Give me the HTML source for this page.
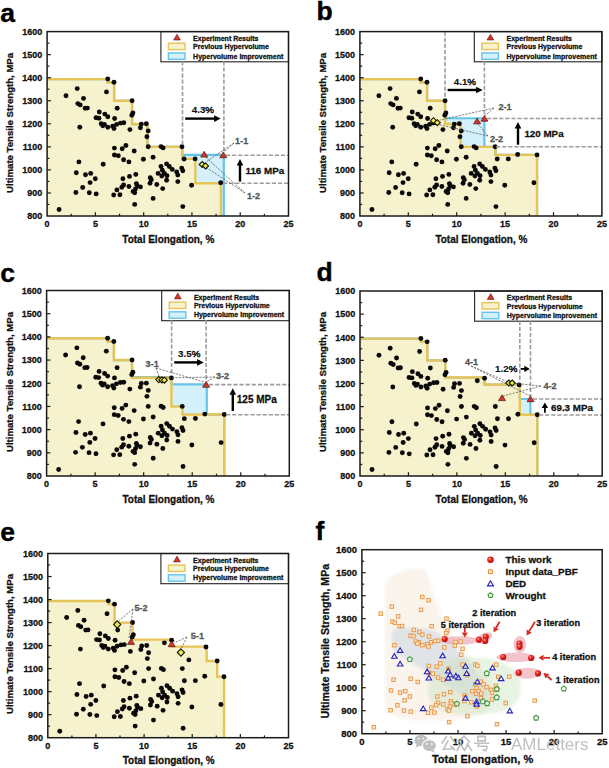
<!DOCTYPE html><html><head><meta charset="utf-8"><style>html,body{margin:0;padding:0;background:#fff;}svg{display:block;}</style></head><body>
<svg width="609" height="768" viewBox="0 0 609 768" font-family='"Liberation Sans", sans-serif'>
<rect width="609" height="768" fill="#fff"/>
<polygon points="47.10,216.00 47.10,79.08 107.93,79.08 107.93,82.31 114.11,82.31 114.11,100.75 132.07,100.75 132.07,124.03 147.52,124.03 147.52,146.85 182.28,146.85 182.28,158.84 195.32,158.84 195.32,183.27 220.91,183.27 220.91,216.00" fill="#f6f2cd"/>
<polygon points="47.10,216.00 47.10,79.08 107.93,79.08 107.93,82.31 114.11,82.31 114.11,100.75 132.07,100.75 132.07,124.03 147.52,124.03 147.52,146.85 182.28,146.85 182.28,154.92 223.80,154.92 223.80,216.00" fill="#d3f0fb"/>
<polygon points="47.10,216.00 47.10,79.08 107.93,79.08 107.93,82.31 114.11,82.31 114.11,100.75 132.07,100.75 132.07,124.03 147.52,124.03 147.52,146.85 182.28,146.85 182.28,158.84 195.32,158.84 195.32,183.27 220.91,183.27 220.91,216.00" fill="#f6f2cd"/>
<polyline points="47.10,79.08 107.93,79.08 107.93,82.31 114.11,82.31 114.11,100.75 132.07,100.75 132.07,124.03 147.52,124.03 147.52,146.85 182.28,146.85 182.28,154.92 223.80,154.92 223.80,216.00" fill="none" stroke="#66c4ea" stroke-width="2.2"/>
<polyline points="47.10,79.08 107.93,79.08 107.93,82.31 114.11,82.31 114.11,100.75 132.07,100.75 132.07,124.03 147.52,124.03 147.52,146.85 182.28,146.85 182.28,158.84 195.32,158.84 195.32,183.27 220.91,183.27 220.91,216.00" fill="none" stroke="#e7c457" stroke-width="2.4"/>
<circle cx="107.80" cy="79.00" r="2.45" fill="#0a0a0a"/>
<circle cx="114.00" cy="82.30" r="2.45" fill="#0a0a0a"/>
<circle cx="77.20" cy="88.60" r="2.45" fill="#0a0a0a"/>
<circle cx="106.50" cy="91.90" r="2.45" fill="#0a0a0a"/>
<circle cx="66.00" cy="95.70" r="2.45" fill="#0a0a0a"/>
<circle cx="83.50" cy="98.40" r="2.45" fill="#0a0a0a"/>
<circle cx="77.80" cy="103.60" r="2.45" fill="#0a0a0a"/>
<circle cx="80.20" cy="104.90" r="2.45" fill="#0a0a0a"/>
<circle cx="85.10" cy="108.30" r="2.45" fill="#0a0a0a"/>
<circle cx="87.40" cy="108.10" r="2.45" fill="#0a0a0a"/>
<circle cx="117.20" cy="108.30" r="2.45" fill="#0a0a0a"/>
<circle cx="99.30" cy="112.00" r="2.45" fill="#0a0a0a"/>
<circle cx="104.80" cy="114.10" r="2.45" fill="#0a0a0a"/>
<circle cx="107.80" cy="116.70" r="2.45" fill="#0a0a0a"/>
<circle cx="96.00" cy="117.80" r="2.45" fill="#0a0a0a"/>
<circle cx="98.90" cy="118.20" r="2.45" fill="#0a0a0a"/>
<circle cx="114.60" cy="118.50" r="2.45" fill="#0a0a0a"/>
<circle cx="101.20" cy="123.70" r="2.45" fill="#0a0a0a"/>
<circle cx="104.40" cy="124.40" r="2.45" fill="#0a0a0a"/>
<circle cx="102.80" cy="125.70" r="2.45" fill="#0a0a0a"/>
<circle cx="107.80" cy="127.30" r="2.45" fill="#0a0a0a"/>
<circle cx="112.70" cy="126.30" r="2.45" fill="#0a0a0a"/>
<circle cx="114.00" cy="128.60" r="2.45" fill="#0a0a0a"/>
<circle cx="116.60" cy="124.40" r="2.45" fill="#0a0a0a"/>
<circle cx="120.50" cy="123.10" r="2.45" fill="#0a0a0a"/>
<circle cx="123.80" cy="122.80" r="2.45" fill="#0a0a0a"/>
<circle cx="79.80" cy="127.30" r="2.45" fill="#0a0a0a"/>
<circle cx="114.40" cy="148.10" r="2.45" fill="#0a0a0a"/>
<circle cx="122.20" cy="148.80" r="2.45" fill="#0a0a0a"/>
<circle cx="114.40" cy="155.00" r="2.45" fill="#0a0a0a"/>
<circle cx="118.30" cy="155.80" r="2.45" fill="#0a0a0a"/>
<circle cx="123.60" cy="159.70" r="2.45" fill="#0a0a0a"/>
<circle cx="78.90" cy="161.90" r="2.45" fill="#0a0a0a"/>
<circle cx="103.20" cy="164.20" r="2.45" fill="#0a0a0a"/>
<circle cx="76.30" cy="172.70" r="2.45" fill="#0a0a0a"/>
<circle cx="85.50" cy="174.70" r="2.45" fill="#0a0a0a"/>
<circle cx="90.70" cy="173.40" r="2.45" fill="#0a0a0a"/>
<circle cx="95.30" cy="178.70" r="2.45" fill="#0a0a0a"/>
<circle cx="90.10" cy="182.60" r="2.45" fill="#0a0a0a"/>
<circle cx="122.90" cy="178.70" r="2.45" fill="#0a0a0a"/>
<circle cx="123.60" cy="184.90" r="2.45" fill="#0a0a0a"/>
<circle cx="121.80" cy="187.30" r="2.45" fill="#0a0a0a"/>
<circle cx="116.90" cy="189.90" r="2.45" fill="#0a0a0a"/>
<circle cx="82.70" cy="187.50" r="2.45" fill="#0a0a0a"/>
<circle cx="75.90" cy="192.50" r="2.45" fill="#0a0a0a"/>
<circle cx="89.30" cy="192.80" r="2.45" fill="#0a0a0a"/>
<circle cx="96.20" cy="193.90" r="2.45" fill="#0a0a0a"/>
<circle cx="113.70" cy="195.00" r="2.45" fill="#0a0a0a"/>
<circle cx="119.90" cy="194.80" r="2.45" fill="#0a0a0a"/>
<circle cx="59.10" cy="209.50" r="2.45" fill="#0a0a0a"/>
<circle cx="132.10" cy="100.70" r="2.45" fill="#0a0a0a"/>
<circle cx="132.90" cy="112.90" r="2.45" fill="#0a0a0a"/>
<circle cx="131.80" cy="115.20" r="2.45" fill="#0a0a0a"/>
<circle cx="129.90" cy="129.60" r="2.45" fill="#0a0a0a"/>
<circle cx="141.30" cy="124.10" r="2.45" fill="#0a0a0a"/>
<circle cx="146.30" cy="123.70" r="2.45" fill="#0a0a0a"/>
<circle cx="140.40" cy="127.70" r="2.45" fill="#0a0a0a"/>
<circle cx="148.20" cy="130.90" r="2.45" fill="#0a0a0a"/>
<circle cx="146.90" cy="136.80" r="2.45" fill="#0a0a0a"/>
<circle cx="148.20" cy="146.80" r="2.45" fill="#0a0a0a"/>
<circle cx="161.00" cy="146.60" r="2.45" fill="#0a0a0a"/>
<circle cx="163.10" cy="147.90" r="2.45" fill="#0a0a0a"/>
<circle cx="182.00" cy="146.80" r="2.45" fill="#0a0a0a"/>
<circle cx="125.90" cy="145.50" r="2.45" fill="#0a0a0a"/>
<circle cx="134.20" cy="151.00" r="2.45" fill="#0a0a0a"/>
<circle cx="128.90" cy="161.90" r="2.45" fill="#0a0a0a"/>
<circle cx="143.40" cy="159.30" r="2.45" fill="#0a0a0a"/>
<circle cx="153.10" cy="157.30" r="2.45" fill="#0a0a0a"/>
<circle cx="184.10" cy="159.00" r="2.45" fill="#0a0a0a"/>
<circle cx="195.10" cy="158.90" r="2.45" fill="#0a0a0a"/>
<circle cx="161.00" cy="166.50" r="2.45" fill="#0a0a0a"/>
<circle cx="166.60" cy="163.90" r="2.45" fill="#0a0a0a"/>
<circle cx="169.30" cy="166.50" r="2.45" fill="#0a0a0a"/>
<circle cx="172.30" cy="169.40" r="2.45" fill="#0a0a0a"/>
<circle cx="181.70" cy="168.10" r="2.45" fill="#0a0a0a"/>
<circle cx="182.80" cy="170.70" r="2.45" fill="#0a0a0a"/>
<circle cx="176.70" cy="172.00" r="2.45" fill="#0a0a0a"/>
<circle cx="177.80" cy="175.10" r="2.45" fill="#0a0a0a"/>
<circle cx="158.10" cy="173.40" r="2.45" fill="#0a0a0a"/>
<circle cx="162.30" cy="170.20" r="2.45" fill="#0a0a0a"/>
<circle cx="161.80" cy="176.00" r="2.45" fill="#0a0a0a"/>
<circle cx="164.40" cy="173.40" r="2.45" fill="#0a0a0a"/>
<circle cx="167.00" cy="175.70" r="2.45" fill="#0a0a0a"/>
<circle cx="166.60" cy="180.30" r="2.45" fill="#0a0a0a"/>
<circle cx="177.80" cy="181.60" r="2.45" fill="#0a0a0a"/>
<circle cx="191.60" cy="185.20" r="2.45" fill="#0a0a0a"/>
<circle cx="135.80" cy="174.40" r="2.45" fill="#0a0a0a"/>
<circle cx="129.50" cy="176.40" r="2.45" fill="#0a0a0a"/>
<circle cx="150.20" cy="177.70" r="2.45" fill="#0a0a0a"/>
<circle cx="151.30" cy="179.70" r="2.45" fill="#0a0a0a"/>
<circle cx="150.00" cy="183.30" r="2.45" fill="#0a0a0a"/>
<circle cx="156.80" cy="184.50" r="2.45" fill="#0a0a0a"/>
<circle cx="162.70" cy="188.60" r="2.45" fill="#0a0a0a"/>
<circle cx="128.90" cy="186.50" r="2.45" fill="#0a0a0a"/>
<circle cx="136.40" cy="183.60" r="2.45" fill="#0a0a0a"/>
<circle cx="137.10" cy="185.60" r="2.45" fill="#0a0a0a"/>
<circle cx="140.40" cy="186.90" r="2.45" fill="#0a0a0a"/>
<circle cx="135.50" cy="188.90" r="2.45" fill="#0a0a0a"/>
<circle cx="133.10" cy="191.50" r="2.45" fill="#0a0a0a"/>
<circle cx="134.70" cy="192.80" r="2.45" fill="#0a0a0a"/>
<circle cx="153.10" cy="198.40" r="2.45" fill="#0a0a0a"/>
<circle cx="134.70" cy="204.40" r="2.45" fill="#0a0a0a"/>
<circle cx="182.80" cy="206.60" r="2.45" fill="#0a0a0a"/>
<circle cx="220.70" cy="182.80" r="2.45" fill="#0a0a0a"/>
<rect x="160.9" y="31.6" width="127.6" height="30.2" fill="#fff" stroke="#222" stroke-width="1.1"/>
<polygon points="173.6,40.0 180.4,40.0 177.0,34.2" fill="#d8342a" stroke="#5a1a10" stroke-width="0.6"/>
<rect x="168.4" y="43.2" width="16.6" height="6.4" fill="#f6f2cd" stroke="#e7c457" stroke-width="1.4"/>
<rect x="168.4" y="52.9" width="16.6" height="6.4" fill="#d3f0fb" stroke="#66c4ea" stroke-width="1.4"/>
<text x="193.1" y="40.6" font-size="7" font-weight="bold" fill="#111" stroke="#111" stroke-width="0.28" text-anchor="start" >Experiment Results</text>
<text x="193.1" y="49.3" font-size="7" font-weight="bold" fill="#111" stroke="#111" stroke-width="0.28" text-anchor="start" >Previous Hypervolume</text>
<text x="193.1" y="58.5" font-size="7" font-weight="bold" fill="#111" stroke="#111" stroke-width="0.28" text-anchor="start" >Hypervolume Improvement</text>
<line x1="182.5" y1="61.3" x2="182.5" y2="146.0" stroke="#9c9c9c" stroke-width="1.6" stroke-dasharray="4.2,1.9"/>
<line x1="223.9" y1="61.3" x2="223.9" y2="153.0" stroke="#9c9c9c" stroke-width="1.6" stroke-dasharray="4.2,1.9"/>
<line x1="226.0" y1="155.2" x2="288.5" y2="155.2" stroke="#9c9c9c" stroke-width="1.6" stroke-dasharray="4.2,1.9"/>
<line x1="223.0" y1="183.2" x2="288.5" y2="183.2" stroke="#9c9c9c" stroke-width="1.6" stroke-dasharray="4.2,1.9"/>
<line x1="185.2" y1="118.6" x2="215.1" y2="118.6" stroke="#000" stroke-width="2.4"/>
<polygon points="214.1,115.3 220.7,118.6 214.1,121.9" fill="#000"/>
<text x="202.9" y="113.2" font-size="9.8" font-weight="bold" fill="#111" stroke="#111" stroke-width="0.12" text-anchor="middle" >4.3<tspan font-weight="normal" stroke-width="0.45">%</tspan></text>
<line x1="240.0" y1="181.6" x2="240.0" y2="164.6" stroke="#000" stroke-width="2.4"/>
<polygon points="236.7,165.6 240.0,159.0 243.3,165.6" fill="#000"/>
<text x="245.5" y="173.9" font-size="9.8" font-weight="bold" fill="#111" stroke="#111" stroke-width="0.28" text-anchor="start" >116 MPa</text>
<line x1="234.0" y1="143.0" x2="223.3" y2="152.5" stroke="#555" stroke-width="0.75" stroke-dasharray="2.2,1.2"/>
<line x1="234.0" y1="143.0" x2="206.0" y2="162.0" stroke="#555" stroke-width="0.75" stroke-dasharray="2.2,1.2"/>
<line x1="245.0" y1="193.0" x2="204.5" y2="156.0" stroke="#555" stroke-width="0.75" stroke-dasharray="2.2,1.2"/>
<line x1="245.0" y1="193.0" x2="204.0" y2="166.0" stroke="#555" stroke-width="0.75" stroke-dasharray="2.2,1.2"/>
<polygon points="200.7,157.1 207.7,157.1 204.2,151.3" fill="#d8342a" stroke="#4a1208" stroke-width="0.7"/>
<polygon points="219.8,157.7 226.8,157.7 223.3,151.9" fill="#d8342a" stroke="#4a1208" stroke-width="0.7"/>
<polygon points="202.2,161.5 205.2,164.5 202.2,167.5 199.2,164.5" fill="#eeec50" stroke="#151500" stroke-width="1.1"/>
<polygon points="205.5,162.9 208.5,165.9 205.5,168.9 202.5,165.9" fill="#eeec50" stroke="#151500" stroke-width="1.1"/>
<text x="235.1" y="143.5" font-size="9.1" font-weight="bold" fill="#555" stroke="#555" stroke-width="0.28" text-anchor="start" >1-1</text>
<text x="246.9" y="199.3" font-size="9.1" font-weight="bold" fill="#555" stroke="#555" stroke-width="0.28" text-anchor="start" >1-2</text>
<line x1="71.24" y1="216.0" x2="71.24" y2="213.7" stroke="#1a1a1a" stroke-width="1.2"/>
<line x1="95.38" y1="216.0" x2="95.38" y2="212.2" stroke="#1a1a1a" stroke-width="1.2"/>
<line x1="119.52" y1="216.0" x2="119.52" y2="213.7" stroke="#1a1a1a" stroke-width="1.2"/>
<line x1="143.66" y1="216.0" x2="143.66" y2="212.2" stroke="#1a1a1a" stroke-width="1.2"/>
<line x1="167.80" y1="216.0" x2="167.80" y2="213.7" stroke="#1a1a1a" stroke-width="1.2"/>
<line x1="191.94" y1="216.0" x2="191.94" y2="212.2" stroke="#1a1a1a" stroke-width="1.2"/>
<line x1="216.08" y1="216.0" x2="216.08" y2="213.7" stroke="#1a1a1a" stroke-width="1.2"/>
<line x1="240.22" y1="216.0" x2="240.22" y2="212.2" stroke="#1a1a1a" stroke-width="1.2"/>
<line x1="264.36" y1="216.0" x2="264.36" y2="213.7" stroke="#1a1a1a" stroke-width="1.2"/>
<line x1="47.1" y1="204.47" x2="49.4" y2="204.47" stroke="#1a1a1a" stroke-width="1.2"/>
<line x1="47.1" y1="192.95" x2="50.9" y2="192.95" stroke="#1a1a1a" stroke-width="1.2"/>
<line x1="47.1" y1="181.43" x2="49.4" y2="181.43" stroke="#1a1a1a" stroke-width="1.2"/>
<line x1="47.1" y1="169.90" x2="50.9" y2="169.90" stroke="#1a1a1a" stroke-width="1.2"/>
<line x1="47.1" y1="158.38" x2="49.4" y2="158.38" stroke="#1a1a1a" stroke-width="1.2"/>
<line x1="47.1" y1="146.85" x2="50.9" y2="146.85" stroke="#1a1a1a" stroke-width="1.2"/>
<line x1="47.1" y1="135.32" x2="49.4" y2="135.32" stroke="#1a1a1a" stroke-width="1.2"/>
<line x1="47.1" y1="123.80" x2="50.9" y2="123.80" stroke="#1a1a1a" stroke-width="1.2"/>
<line x1="47.1" y1="112.28" x2="49.4" y2="112.28" stroke="#1a1a1a" stroke-width="1.2"/>
<line x1="47.1" y1="100.75" x2="50.9" y2="100.75" stroke="#1a1a1a" stroke-width="1.2"/>
<line x1="47.1" y1="89.22" x2="49.4" y2="89.22" stroke="#1a1a1a" stroke-width="1.2"/>
<line x1="47.1" y1="77.70" x2="50.9" y2="77.70" stroke="#1a1a1a" stroke-width="1.2"/>
<line x1="47.1" y1="66.18" x2="49.4" y2="66.18" stroke="#1a1a1a" stroke-width="1.2"/>
<line x1="47.1" y1="54.65" x2="50.9" y2="54.65" stroke="#1a1a1a" stroke-width="1.2"/>
<line x1="47.1" y1="43.12" x2="49.4" y2="43.12" stroke="#1a1a1a" stroke-width="1.2"/>
<rect x="47.1" y="31.6" width="241.40" height="184.40" fill="none" stroke="#1a1a1a" stroke-width="1.5"/>
<text x="47.1" y="227.3" font-size="9" font-weight="bold" fill="#111" stroke="#111" stroke-width="0.28" text-anchor="middle" >0</text>
<text x="95.4" y="227.3" font-size="9" font-weight="bold" fill="#111" stroke="#111" stroke-width="0.28" text-anchor="middle" >5</text>
<text x="143.7" y="227.3" font-size="9" font-weight="bold" fill="#111" stroke="#111" stroke-width="0.28" text-anchor="middle" >10</text>
<text x="191.9" y="227.3" font-size="9" font-weight="bold" fill="#111" stroke="#111" stroke-width="0.28" text-anchor="middle" >15</text>
<text x="240.2" y="227.3" font-size="9" font-weight="bold" fill="#111" stroke="#111" stroke-width="0.28" text-anchor="middle" >20</text>
<text x="288.5" y="227.3" font-size="9" font-weight="bold" fill="#111" stroke="#111" stroke-width="0.28" text-anchor="middle" >25</text>
<text x="42.3" y="219.2" font-size="9" font-weight="bold" fill="#111" stroke="#111" stroke-width="0.28" text-anchor="end" >800</text>
<text x="42.3" y="196.2" font-size="9" font-weight="bold" fill="#111" stroke="#111" stroke-width="0.28" text-anchor="end" >900</text>
<text x="42.3" y="173.1" font-size="9" font-weight="bold" fill="#111" stroke="#111" stroke-width="0.28" text-anchor="end" >1000</text>
<text x="42.3" y="150.1" font-size="9" font-weight="bold" fill="#111" stroke="#111" stroke-width="0.28" text-anchor="end" >1100</text>
<text x="42.3" y="127.0" font-size="9" font-weight="bold" fill="#111" stroke="#111" stroke-width="0.28" text-anchor="end" >1200</text>
<text x="42.3" y="104.0" font-size="9" font-weight="bold" fill="#111" stroke="#111" stroke-width="0.28" text-anchor="end" >1300</text>
<text x="42.3" y="80.9" font-size="9" font-weight="bold" fill="#111" stroke="#111" stroke-width="0.28" text-anchor="end" >1400</text>
<text x="42.3" y="57.9" font-size="9" font-weight="bold" fill="#111" stroke="#111" stroke-width="0.28" text-anchor="end" >1500</text>
<text x="42.3" y="34.8" font-size="9" font-weight="bold" fill="#111" stroke="#111" stroke-width="0.28" text-anchor="end" >1600</text>
<text x="168.3" y="242.6" font-size="10" font-weight="bold" fill="#111" stroke="#111" stroke-width="0.28" text-anchor="middle" >Total Elongation, %</text>
<text x="0" y="0" font-size="9.6" font-weight="bold" fill="#111" stroke="#111" stroke-width="0.28" text-anchor="middle" transform="translate(12.5,122.9) rotate(-90)">Ultimate Tensile Strength, MPa</text>
<text x="0.2" y="21.7" font-size="26.5" font-weight="bold" fill="#000" stroke="#000" stroke-width="0.4">a</text>
<polygon points="359.90,216.00 359.90,79.08 420.88,79.08 420.88,82.31 427.08,82.31 427.08,100.75 445.08,100.75 445.08,124.03 460.57,124.03 460.57,146.85 495.42,146.85 495.42,154.92 537.04,154.92 537.04,216.00" fill="#f6f2cd"/>
<polygon points="359.90,216.00 359.90,79.08 420.88,79.08 420.88,82.31 427.08,82.31 427.08,100.75 445.08,100.75 445.08,118.27 484.38,118.27 484.38,146.85 495.42,146.85 495.42,154.92 537.04,154.92 537.04,216.00" fill="#d3f0fb"/>
<polygon points="359.90,216.00 359.90,79.08 420.88,79.08 420.88,82.31 427.08,82.31 427.08,100.75 445.08,100.75 445.08,124.03 460.57,124.03 460.57,146.85 495.42,146.85 495.42,154.92 537.04,154.92 537.04,216.00" fill="#f6f2cd"/>
<polyline points="359.90,79.08 420.88,79.08 420.88,82.31 427.08,82.31 427.08,100.75 445.08,100.75 445.08,118.27 484.38,118.27 484.38,146.85 495.42,146.85 495.42,154.92 537.04,154.92 537.04,216.00" fill="none" stroke="#66c4ea" stroke-width="2.2"/>
<polyline points="359.90,79.08 420.88,79.08 420.88,82.31 427.08,82.31 427.08,100.75 445.08,100.75 445.08,124.03 460.57,124.03 460.57,146.85 495.42,146.85 495.42,154.92 537.04,154.92 537.04,216.00" fill="none" stroke="#e7c457" stroke-width="2.4"/>
<circle cx="420.75" cy="79.00" r="2.45" fill="#0a0a0a"/>
<circle cx="426.97" cy="82.30" r="2.45" fill="#0a0a0a"/>
<circle cx="390.07" cy="88.60" r="2.45" fill="#0a0a0a"/>
<circle cx="419.45" cy="91.90" r="2.45" fill="#0a0a0a"/>
<circle cx="378.85" cy="95.70" r="2.45" fill="#0a0a0a"/>
<circle cx="396.39" cy="98.40" r="2.45" fill="#0a0a0a"/>
<circle cx="390.68" cy="103.60" r="2.45" fill="#0a0a0a"/>
<circle cx="393.08" cy="104.90" r="2.45" fill="#0a0a0a"/>
<circle cx="397.99" cy="108.30" r="2.45" fill="#0a0a0a"/>
<circle cx="400.30" cy="108.10" r="2.45" fill="#0a0a0a"/>
<circle cx="430.17" cy="108.30" r="2.45" fill="#0a0a0a"/>
<circle cx="412.23" cy="112.00" r="2.45" fill="#0a0a0a"/>
<circle cx="417.74" cy="114.10" r="2.45" fill="#0a0a0a"/>
<circle cx="420.75" cy="116.70" r="2.45" fill="#0a0a0a"/>
<circle cx="408.92" cy="117.80" r="2.45" fill="#0a0a0a"/>
<circle cx="411.83" cy="118.20" r="2.45" fill="#0a0a0a"/>
<circle cx="427.57" cy="118.50" r="2.45" fill="#0a0a0a"/>
<circle cx="414.13" cy="123.70" r="2.45" fill="#0a0a0a"/>
<circle cx="417.34" cy="124.40" r="2.45" fill="#0a0a0a"/>
<circle cx="415.74" cy="125.70" r="2.45" fill="#0a0a0a"/>
<circle cx="420.75" cy="127.30" r="2.45" fill="#0a0a0a"/>
<circle cx="425.66" cy="126.30" r="2.45" fill="#0a0a0a"/>
<circle cx="426.97" cy="128.60" r="2.45" fill="#0a0a0a"/>
<circle cx="429.57" cy="124.40" r="2.45" fill="#0a0a0a"/>
<circle cx="433.48" cy="123.10" r="2.45" fill="#0a0a0a"/>
<circle cx="436.79" cy="122.80" r="2.45" fill="#0a0a0a"/>
<circle cx="392.68" cy="127.30" r="2.45" fill="#0a0a0a"/>
<circle cx="427.37" cy="148.10" r="2.45" fill="#0a0a0a"/>
<circle cx="435.19" cy="148.80" r="2.45" fill="#0a0a0a"/>
<circle cx="427.37" cy="155.00" r="2.45" fill="#0a0a0a"/>
<circle cx="431.28" cy="155.80" r="2.45" fill="#0a0a0a"/>
<circle cx="436.59" cy="159.70" r="2.45" fill="#0a0a0a"/>
<circle cx="391.78" cy="161.90" r="2.45" fill="#0a0a0a"/>
<circle cx="416.14" cy="164.20" r="2.45" fill="#0a0a0a"/>
<circle cx="389.17" cy="172.70" r="2.45" fill="#0a0a0a"/>
<circle cx="398.40" cy="174.70" r="2.45" fill="#0a0a0a"/>
<circle cx="403.61" cy="173.40" r="2.45" fill="#0a0a0a"/>
<circle cx="408.22" cy="178.70" r="2.45" fill="#0a0a0a"/>
<circle cx="403.01" cy="182.60" r="2.45" fill="#0a0a0a"/>
<circle cx="435.89" cy="178.70" r="2.45" fill="#0a0a0a"/>
<circle cx="436.59" cy="184.90" r="2.45" fill="#0a0a0a"/>
<circle cx="434.79" cy="187.30" r="2.45" fill="#0a0a0a"/>
<circle cx="429.87" cy="189.90" r="2.45" fill="#0a0a0a"/>
<circle cx="395.59" cy="187.50" r="2.45" fill="#0a0a0a"/>
<circle cx="388.77" cy="192.50" r="2.45" fill="#0a0a0a"/>
<circle cx="402.20" cy="192.80" r="2.45" fill="#0a0a0a"/>
<circle cx="409.12" cy="193.90" r="2.45" fill="#0a0a0a"/>
<circle cx="426.67" cy="195.00" r="2.45" fill="#0a0a0a"/>
<circle cx="432.88" cy="194.80" r="2.45" fill="#0a0a0a"/>
<circle cx="371.93" cy="209.50" r="2.45" fill="#0a0a0a"/>
<circle cx="445.11" cy="100.70" r="2.45" fill="#0a0a0a"/>
<circle cx="445.91" cy="112.90" r="2.45" fill="#0a0a0a"/>
<circle cx="444.81" cy="115.20" r="2.45" fill="#0a0a0a"/>
<circle cx="442.91" cy="129.60" r="2.45" fill="#0a0a0a"/>
<circle cx="454.33" cy="124.10" r="2.45" fill="#0a0a0a"/>
<circle cx="459.35" cy="123.70" r="2.45" fill="#0a0a0a"/>
<circle cx="453.43" cy="127.70" r="2.45" fill="#0a0a0a"/>
<circle cx="461.25" cy="130.90" r="2.45" fill="#0a0a0a"/>
<circle cx="459.95" cy="136.80" r="2.45" fill="#0a0a0a"/>
<circle cx="461.25" cy="146.80" r="2.45" fill="#0a0a0a"/>
<circle cx="474.08" cy="146.60" r="2.45" fill="#0a0a0a"/>
<circle cx="476.19" cy="147.90" r="2.45" fill="#0a0a0a"/>
<circle cx="495.14" cy="146.80" r="2.45" fill="#0a0a0a"/>
<circle cx="438.90" cy="145.50" r="2.45" fill="#0a0a0a"/>
<circle cx="447.22" cy="151.00" r="2.45" fill="#0a0a0a"/>
<circle cx="441.90" cy="161.90" r="2.45" fill="#0a0a0a"/>
<circle cx="456.44" cy="159.30" r="2.45" fill="#0a0a0a"/>
<circle cx="466.16" cy="157.30" r="2.45" fill="#0a0a0a"/>
<circle cx="497.24" cy="159.00" r="2.45" fill="#0a0a0a"/>
<circle cx="508.27" cy="158.90" r="2.45" fill="#0a0a0a"/>
<circle cx="474.08" cy="166.50" r="2.45" fill="#0a0a0a"/>
<circle cx="479.70" cy="163.90" r="2.45" fill="#0a0a0a"/>
<circle cx="482.40" cy="166.50" r="2.45" fill="#0a0a0a"/>
<circle cx="485.41" cy="169.40" r="2.45" fill="#0a0a0a"/>
<circle cx="494.83" cy="168.10" r="2.45" fill="#0a0a0a"/>
<circle cx="495.94" cy="170.70" r="2.45" fill="#0a0a0a"/>
<circle cx="489.82" cy="172.00" r="2.45" fill="#0a0a0a"/>
<circle cx="490.92" cy="175.10" r="2.45" fill="#0a0a0a"/>
<circle cx="471.18" cy="173.40" r="2.45" fill="#0a0a0a"/>
<circle cx="475.39" cy="170.20" r="2.45" fill="#0a0a0a"/>
<circle cx="474.89" cy="176.00" r="2.45" fill="#0a0a0a"/>
<circle cx="477.49" cy="173.40" r="2.45" fill="#0a0a0a"/>
<circle cx="480.10" cy="175.70" r="2.45" fill="#0a0a0a"/>
<circle cx="479.70" cy="180.30" r="2.45" fill="#0a0a0a"/>
<circle cx="490.92" cy="181.60" r="2.45" fill="#0a0a0a"/>
<circle cx="504.76" cy="185.20" r="2.45" fill="#0a0a0a"/>
<circle cx="448.82" cy="174.40" r="2.45" fill="#0a0a0a"/>
<circle cx="442.50" cy="176.40" r="2.45" fill="#0a0a0a"/>
<circle cx="463.26" cy="177.70" r="2.45" fill="#0a0a0a"/>
<circle cx="464.36" cy="179.70" r="2.45" fill="#0a0a0a"/>
<circle cx="463.06" cy="183.30" r="2.45" fill="#0a0a0a"/>
<circle cx="469.87" cy="184.50" r="2.45" fill="#0a0a0a"/>
<circle cx="475.79" cy="188.60" r="2.45" fill="#0a0a0a"/>
<circle cx="441.90" cy="186.50" r="2.45" fill="#0a0a0a"/>
<circle cx="449.42" cy="183.60" r="2.45" fill="#0a0a0a"/>
<circle cx="450.12" cy="185.60" r="2.45" fill="#0a0a0a"/>
<circle cx="453.43" cy="186.90" r="2.45" fill="#0a0a0a"/>
<circle cx="448.52" cy="188.90" r="2.45" fill="#0a0a0a"/>
<circle cx="446.11" cy="191.50" r="2.45" fill="#0a0a0a"/>
<circle cx="447.72" cy="192.80" r="2.45" fill="#0a0a0a"/>
<circle cx="466.16" cy="198.40" r="2.45" fill="#0a0a0a"/>
<circle cx="447.72" cy="204.40" r="2.45" fill="#0a0a0a"/>
<circle cx="495.94" cy="206.60" r="2.45" fill="#0a0a0a"/>
<circle cx="533.93" cy="182.80" r="2.45" fill="#0a0a0a"/>
<circle cx="517.68" cy="154.46" r="2.45" fill="#0a0a0a"/>
<circle cx="537.04" cy="154.92" r="2.45" fill="#0a0a0a"/>
<rect x="474.3" y="31.6" width="127.6" height="30.2" fill="#fff" stroke="#222" stroke-width="1.1"/>
<polygon points="487.0,40.0 493.8,40.0 490.4,34.2" fill="#d8342a" stroke="#5a1a10" stroke-width="0.6"/>
<rect x="481.8" y="43.2" width="16.6" height="6.4" fill="#f6f2cd" stroke="#e7c457" stroke-width="1.4"/>
<rect x="481.8" y="52.9" width="16.6" height="6.4" fill="#d3f0fb" stroke="#66c4ea" stroke-width="1.4"/>
<text x="506.5" y="40.6" font-size="7" font-weight="bold" fill="#111" stroke="#111" stroke-width="0.28" text-anchor="start" >Experiment Results</text>
<text x="506.5" y="49.3" font-size="7" font-weight="bold" fill="#111" stroke="#111" stroke-width="0.28" text-anchor="start" >Previous Hypervolume</text>
<text x="506.5" y="58.5" font-size="7" font-weight="bold" fill="#111" stroke="#111" stroke-width="0.28" text-anchor="start" >Hypervolume Improvement</text>
<line x1="445.0" y1="31.6" x2="445.0" y2="99.0" stroke="#9c9c9c" stroke-width="1.6" stroke-dasharray="4.2,1.9"/>
<line x1="484.4" y1="61.3" x2="484.4" y2="116.0" stroke="#9c9c9c" stroke-width="1.6" stroke-dasharray="4.2,1.9"/>
<line x1="487.0" y1="118.5" x2="601.9" y2="118.5" stroke="#9c9c9c" stroke-width="1.6" stroke-dasharray="4.2,1.9"/>
<line x1="496.0" y1="146.7" x2="601.9" y2="146.7" stroke="#9c9c9c" stroke-width="1.6" stroke-dasharray="4.2,1.9"/>
<line x1="447.6" y1="90.0" x2="477.1" y2="90.0" stroke="#000" stroke-width="2.4"/>
<polygon points="476.1,86.7 482.7,90.0 476.1,93.3" fill="#000"/>
<text x="464.9" y="85.2" font-size="9.8" font-weight="bold" fill="#111" stroke="#111" stroke-width="0.12" text-anchor="middle" >4.1<tspan font-weight="normal" stroke-width="0.45">%</tspan></text>
<line x1="518.0" y1="144.7" x2="518.0" y2="127.6" stroke="#000" stroke-width="2.4"/>
<polygon points="514.7,128.6 518.0,122.0 521.3,128.6" fill="#000"/>
<text x="524.4" y="137.4" font-size="9.8" font-weight="bold" fill="#111" stroke="#111" stroke-width="0.28" text-anchor="start" >120 MPa</text>
<line x1="494.0" y1="108.0" x2="484.4" y2="116.0" stroke="#555" stroke-width="0.75" stroke-dasharray="2.2,1.2"/>
<line x1="494.0" y1="108.0" x2="440.0" y2="120.0" stroke="#555" stroke-width="0.75" stroke-dasharray="2.2,1.2"/>
<line x1="488.0" y1="136.0" x2="477.1" y2="123.0" stroke="#555" stroke-width="0.75" stroke-dasharray="2.2,1.2"/>
<line x1="488.0" y1="136.0" x2="436.0" y2="124.0" stroke="#555" stroke-width="0.75" stroke-dasharray="2.2,1.2"/>
<polygon points="473.6,123.8 480.6,123.8 477.1,118.0" fill="#d8342a" stroke="#4a1208" stroke-width="0.7"/>
<polygon points="480.9,121.2 487.9,121.2 484.4,115.4" fill="#d8342a" stroke="#4a1208" stroke-width="0.7"/>
<polygon points="433.4,117.7 436.4,120.7 433.4,123.7 430.4,120.7" fill="#eeec50" stroke="#151500" stroke-width="1.1"/>
<polygon points="437.3,119.7 440.3,122.7 437.3,125.7 434.3,122.7" fill="#eeec50" stroke="#151500" stroke-width="1.1"/>
<text x="498.4" y="110.2" font-size="9.1" font-weight="bold" fill="#555" stroke="#555" stroke-width="0.28" text-anchor="start" >2-1</text>
<text x="490.0" y="141.5" font-size="9.1" font-weight="bold" fill="#555" stroke="#555" stroke-width="0.28" text-anchor="start" >2-2</text>
<line x1="384.10" y1="216.0" x2="384.10" y2="213.7" stroke="#1a1a1a" stroke-width="1.2"/>
<line x1="408.30" y1="216.0" x2="408.30" y2="212.2" stroke="#1a1a1a" stroke-width="1.2"/>
<line x1="432.50" y1="216.0" x2="432.50" y2="213.7" stroke="#1a1a1a" stroke-width="1.2"/>
<line x1="456.70" y1="216.0" x2="456.70" y2="212.2" stroke="#1a1a1a" stroke-width="1.2"/>
<line x1="480.90" y1="216.0" x2="480.90" y2="213.7" stroke="#1a1a1a" stroke-width="1.2"/>
<line x1="505.10" y1="216.0" x2="505.10" y2="212.2" stroke="#1a1a1a" stroke-width="1.2"/>
<line x1="529.30" y1="216.0" x2="529.30" y2="213.7" stroke="#1a1a1a" stroke-width="1.2"/>
<line x1="553.50" y1="216.0" x2="553.50" y2="212.2" stroke="#1a1a1a" stroke-width="1.2"/>
<line x1="577.70" y1="216.0" x2="577.70" y2="213.7" stroke="#1a1a1a" stroke-width="1.2"/>
<line x1="359.9" y1="204.47" x2="362.2" y2="204.47" stroke="#1a1a1a" stroke-width="1.2"/>
<line x1="359.9" y1="192.95" x2="363.7" y2="192.95" stroke="#1a1a1a" stroke-width="1.2"/>
<line x1="359.9" y1="181.43" x2="362.2" y2="181.43" stroke="#1a1a1a" stroke-width="1.2"/>
<line x1="359.9" y1="169.90" x2="363.7" y2="169.90" stroke="#1a1a1a" stroke-width="1.2"/>
<line x1="359.9" y1="158.38" x2="362.2" y2="158.38" stroke="#1a1a1a" stroke-width="1.2"/>
<line x1="359.9" y1="146.85" x2="363.7" y2="146.85" stroke="#1a1a1a" stroke-width="1.2"/>
<line x1="359.9" y1="135.32" x2="362.2" y2="135.32" stroke="#1a1a1a" stroke-width="1.2"/>
<line x1="359.9" y1="123.80" x2="363.7" y2="123.80" stroke="#1a1a1a" stroke-width="1.2"/>
<line x1="359.9" y1="112.28" x2="362.2" y2="112.28" stroke="#1a1a1a" stroke-width="1.2"/>
<line x1="359.9" y1="100.75" x2="363.7" y2="100.75" stroke="#1a1a1a" stroke-width="1.2"/>
<line x1="359.9" y1="89.22" x2="362.2" y2="89.22" stroke="#1a1a1a" stroke-width="1.2"/>
<line x1="359.9" y1="77.70" x2="363.7" y2="77.70" stroke="#1a1a1a" stroke-width="1.2"/>
<line x1="359.9" y1="66.18" x2="362.2" y2="66.18" stroke="#1a1a1a" stroke-width="1.2"/>
<line x1="359.9" y1="54.65" x2="363.7" y2="54.65" stroke="#1a1a1a" stroke-width="1.2"/>
<line x1="359.9" y1="43.12" x2="362.2" y2="43.12" stroke="#1a1a1a" stroke-width="1.2"/>
<rect x="359.9" y="31.6" width="242.00" height="184.40" fill="none" stroke="#1a1a1a" stroke-width="1.5"/>
<text x="359.9" y="227.3" font-size="9" font-weight="bold" fill="#111" stroke="#111" stroke-width="0.28" text-anchor="middle" >0</text>
<text x="408.3" y="227.3" font-size="9" font-weight="bold" fill="#111" stroke="#111" stroke-width="0.28" text-anchor="middle" >5</text>
<text x="456.7" y="227.3" font-size="9" font-weight="bold" fill="#111" stroke="#111" stroke-width="0.28" text-anchor="middle" >10</text>
<text x="505.1" y="227.3" font-size="9" font-weight="bold" fill="#111" stroke="#111" stroke-width="0.28" text-anchor="middle" >15</text>
<text x="553.5" y="227.3" font-size="9" font-weight="bold" fill="#111" stroke="#111" stroke-width="0.28" text-anchor="middle" >20</text>
<text x="601.9" y="227.3" font-size="9" font-weight="bold" fill="#111" stroke="#111" stroke-width="0.28" text-anchor="middle" >25</text>
<text x="355.1" y="219.2" font-size="9" font-weight="bold" fill="#111" stroke="#111" stroke-width="0.28" text-anchor="end" >800</text>
<text x="355.1" y="196.2" font-size="9" font-weight="bold" fill="#111" stroke="#111" stroke-width="0.28" text-anchor="end" >900</text>
<text x="355.1" y="173.1" font-size="9" font-weight="bold" fill="#111" stroke="#111" stroke-width="0.28" text-anchor="end" >1000</text>
<text x="355.1" y="150.1" font-size="9" font-weight="bold" fill="#111" stroke="#111" stroke-width="0.28" text-anchor="end" >1100</text>
<text x="355.1" y="127.0" font-size="9" font-weight="bold" fill="#111" stroke="#111" stroke-width="0.28" text-anchor="end" >1200</text>
<text x="355.1" y="104.0" font-size="9" font-weight="bold" fill="#111" stroke="#111" stroke-width="0.28" text-anchor="end" >1300</text>
<text x="355.1" y="80.9" font-size="9" font-weight="bold" fill="#111" stroke="#111" stroke-width="0.28" text-anchor="end" >1400</text>
<text x="355.1" y="57.9" font-size="9" font-weight="bold" fill="#111" stroke="#111" stroke-width="0.28" text-anchor="end" >1500</text>
<text x="355.1" y="34.8" font-size="9" font-weight="bold" fill="#111" stroke="#111" stroke-width="0.28" text-anchor="end" >1600</text>
<text x="481.4" y="242.6" font-size="10" font-weight="bold" fill="#111" stroke="#111" stroke-width="0.28" text-anchor="middle" >Total Elongation, %</text>
<text x="0" y="0" font-size="9.6" font-weight="bold" fill="#111" stroke="#111" stroke-width="0.28" text-anchor="middle" transform="translate(325.5,122.9) rotate(-90)">Ultimate Tensile Strength, MPa</text>
<text x="316.4" y="20.4" font-size="26.5" font-weight="bold" fill="#000" stroke="#000" stroke-width="0.4">b</text>
<polygon points="46.60,476.00 46.60,338.27 107.76,338.27 107.76,341.51 113.97,341.51 113.97,360.06 132.03,360.06 132.03,377.69 171.44,377.69 171.44,406.44 182.51,406.44 182.51,414.55 224.26,414.55 224.26,476.00" fill="#f6f2cd"/>
<polygon points="46.60,476.00 46.60,338.27 107.76,338.27 107.76,341.51 113.97,341.51 113.97,360.06 132.03,360.06 132.03,377.22 171.44,377.22 171.44,384.29 206.78,384.29 206.78,414.55 224.26,414.55 224.26,476.00" fill="#d3f0fb"/>
<polygon points="46.60,476.00 46.60,338.27 107.76,338.27 107.76,341.51 113.97,341.51 113.97,360.06 132.03,360.06 132.03,377.69 171.44,377.69 171.44,406.44 182.51,406.44 182.51,414.55 224.26,414.55 224.26,476.00" fill="#f6f2cd"/>
<polyline points="46.60,338.27 107.76,338.27 107.76,341.51 113.97,341.51 113.97,360.06 132.03,360.06 132.03,377.22 171.44,377.22 171.44,384.29 206.78,384.29 206.78,414.55 224.26,414.55 224.26,476.00" fill="none" stroke="#66c4ea" stroke-width="2.2"/>
<polyline points="46.60,338.27 107.76,338.27 107.76,341.51 113.97,341.51 113.97,360.06 132.03,360.06 132.03,377.69 171.44,377.69 171.44,406.44 182.51,406.44 182.51,414.55 224.26,414.55 224.26,476.00" fill="none" stroke="#e7c457" stroke-width="2.4"/>
<circle cx="107.63" cy="338.18" r="2.45" fill="#0a0a0a"/>
<circle cx="113.86" cy="341.50" r="2.45" fill="#0a0a0a"/>
<circle cx="76.86" cy="347.84" r="2.45" fill="#0a0a0a"/>
<circle cx="106.32" cy="351.16" r="2.45" fill="#0a0a0a"/>
<circle cx="65.60" cy="354.98" r="2.45" fill="#0a0a0a"/>
<circle cx="83.20" cy="357.70" r="2.45" fill="#0a0a0a"/>
<circle cx="77.47" cy="362.93" r="2.45" fill="#0a0a0a"/>
<circle cx="79.88" cy="364.24" r="2.45" fill="#0a0a0a"/>
<circle cx="84.80" cy="367.66" r="2.45" fill="#0a0a0a"/>
<circle cx="87.12" cy="367.46" r="2.45" fill="#0a0a0a"/>
<circle cx="117.08" cy="367.66" r="2.45" fill="#0a0a0a"/>
<circle cx="99.08" cy="371.38" r="2.45" fill="#0a0a0a"/>
<circle cx="104.61" cy="373.49" r="2.45" fill="#0a0a0a"/>
<circle cx="107.63" cy="376.11" r="2.45" fill="#0a0a0a"/>
<circle cx="95.76" cy="377.21" r="2.45" fill="#0a0a0a"/>
<circle cx="98.68" cy="377.62" r="2.45" fill="#0a0a0a"/>
<circle cx="114.46" cy="377.92" r="2.45" fill="#0a0a0a"/>
<circle cx="100.99" cy="383.15" r="2.45" fill="#0a0a0a"/>
<circle cx="104.21" cy="383.85" r="2.45" fill="#0a0a0a"/>
<circle cx="102.60" cy="385.16" r="2.45" fill="#0a0a0a"/>
<circle cx="107.63" cy="386.77" r="2.45" fill="#0a0a0a"/>
<circle cx="112.55" cy="385.76" r="2.45" fill="#0a0a0a"/>
<circle cx="113.86" cy="388.08" r="2.45" fill="#0a0a0a"/>
<circle cx="116.47" cy="383.85" r="2.45" fill="#0a0a0a"/>
<circle cx="120.40" cy="382.55" r="2.45" fill="#0a0a0a"/>
<circle cx="123.71" cy="382.24" r="2.45" fill="#0a0a0a"/>
<circle cx="79.48" cy="386.77" r="2.45" fill="#0a0a0a"/>
<circle cx="114.26" cy="407.69" r="2.45" fill="#0a0a0a"/>
<circle cx="122.10" cy="408.40" r="2.45" fill="#0a0a0a"/>
<circle cx="114.26" cy="414.64" r="2.45" fill="#0a0a0a"/>
<circle cx="118.18" cy="415.44" r="2.45" fill="#0a0a0a"/>
<circle cx="123.51" cy="419.36" r="2.45" fill="#0a0a0a"/>
<circle cx="78.57" cy="421.58" r="2.45" fill="#0a0a0a"/>
<circle cx="103.00" cy="423.89" r="2.45" fill="#0a0a0a"/>
<circle cx="75.96" cy="432.44" r="2.45" fill="#0a0a0a"/>
<circle cx="85.21" cy="434.45" r="2.45" fill="#0a0a0a"/>
<circle cx="90.43" cy="433.15" r="2.45" fill="#0a0a0a"/>
<circle cx="95.06" cy="438.48" r="2.45" fill="#0a0a0a"/>
<circle cx="89.83" cy="442.40" r="2.45" fill="#0a0a0a"/>
<circle cx="122.81" cy="438.48" r="2.45" fill="#0a0a0a"/>
<circle cx="123.51" cy="444.71" r="2.45" fill="#0a0a0a"/>
<circle cx="121.70" cy="447.13" r="2.45" fill="#0a0a0a"/>
<circle cx="116.78" cy="449.74" r="2.45" fill="#0a0a0a"/>
<circle cx="82.39" cy="447.33" r="2.45" fill="#0a0a0a"/>
<circle cx="75.56" cy="452.36" r="2.45" fill="#0a0a0a"/>
<circle cx="89.03" cy="452.66" r="2.45" fill="#0a0a0a"/>
<circle cx="95.96" cy="453.77" r="2.45" fill="#0a0a0a"/>
<circle cx="113.56" cy="454.87" r="2.45" fill="#0a0a0a"/>
<circle cx="119.79" cy="454.67" r="2.45" fill="#0a0a0a"/>
<circle cx="58.66" cy="469.46" r="2.45" fill="#0a0a0a"/>
<circle cx="132.06" cy="360.01" r="2.45" fill="#0a0a0a"/>
<circle cx="132.86" cy="372.28" r="2.45" fill="#0a0a0a"/>
<circle cx="131.76" cy="374.60" r="2.45" fill="#0a0a0a"/>
<circle cx="129.85" cy="389.08" r="2.45" fill="#0a0a0a"/>
<circle cx="141.31" cy="383.55" r="2.45" fill="#0a0a0a"/>
<circle cx="146.33" cy="383.15" r="2.45" fill="#0a0a0a"/>
<circle cx="140.40" cy="387.17" r="2.45" fill="#0a0a0a"/>
<circle cx="148.24" cy="390.39" r="2.45" fill="#0a0a0a"/>
<circle cx="146.94" cy="396.33" r="2.45" fill="#0a0a0a"/>
<circle cx="148.24" cy="406.39" r="2.45" fill="#0a0a0a"/>
<circle cx="161.11" cy="406.19" r="2.45" fill="#0a0a0a"/>
<circle cx="163.22" cy="407.49" r="2.45" fill="#0a0a0a"/>
<circle cx="182.23" cy="406.39" r="2.45" fill="#0a0a0a"/>
<circle cx="125.82" cy="405.08" r="2.45" fill="#0a0a0a"/>
<circle cx="134.17" cy="410.61" r="2.45" fill="#0a0a0a"/>
<circle cx="128.84" cy="421.58" r="2.45" fill="#0a0a0a"/>
<circle cx="143.42" cy="418.96" r="2.45" fill="#0a0a0a"/>
<circle cx="153.17" cy="416.95" r="2.45" fill="#0a0a0a"/>
<circle cx="184.34" cy="418.66" r="2.45" fill="#0a0a0a"/>
<circle cx="195.40" cy="418.56" r="2.45" fill="#0a0a0a"/>
<circle cx="161.11" cy="426.20" r="2.45" fill="#0a0a0a"/>
<circle cx="166.74" cy="423.59" r="2.45" fill="#0a0a0a"/>
<circle cx="169.46" cy="426.20" r="2.45" fill="#0a0a0a"/>
<circle cx="172.47" cy="429.12" r="2.45" fill="#0a0a0a"/>
<circle cx="181.92" cy="427.81" r="2.45" fill="#0a0a0a"/>
<circle cx="183.03" cy="430.43" r="2.45" fill="#0a0a0a"/>
<circle cx="176.90" cy="431.74" r="2.45" fill="#0a0a0a"/>
<circle cx="178.00" cy="434.86" r="2.45" fill="#0a0a0a"/>
<circle cx="158.20" cy="433.15" r="2.45" fill="#0a0a0a"/>
<circle cx="162.42" cy="429.93" r="2.45" fill="#0a0a0a"/>
<circle cx="161.92" cy="435.76" r="2.45" fill="#0a0a0a"/>
<circle cx="164.53" cy="433.15" r="2.45" fill="#0a0a0a"/>
<circle cx="167.15" cy="435.46" r="2.45" fill="#0a0a0a"/>
<circle cx="166.74" cy="440.09" r="2.45" fill="#0a0a0a"/>
<circle cx="178.00" cy="441.39" r="2.45" fill="#0a0a0a"/>
<circle cx="191.88" cy="445.02" r="2.45" fill="#0a0a0a"/>
<circle cx="135.78" cy="434.15" r="2.45" fill="#0a0a0a"/>
<circle cx="129.44" cy="436.16" r="2.45" fill="#0a0a0a"/>
<circle cx="150.26" cy="437.47" r="2.45" fill="#0a0a0a"/>
<circle cx="151.36" cy="439.48" r="2.45" fill="#0a0a0a"/>
<circle cx="150.05" cy="443.10" r="2.45" fill="#0a0a0a"/>
<circle cx="156.89" cy="444.31" r="2.45" fill="#0a0a0a"/>
<circle cx="162.82" cy="448.44" r="2.45" fill="#0a0a0a"/>
<circle cx="128.84" cy="446.32" r="2.45" fill="#0a0a0a"/>
<circle cx="136.38" cy="443.41" r="2.45" fill="#0a0a0a"/>
<circle cx="137.08" cy="445.42" r="2.45" fill="#0a0a0a"/>
<circle cx="140.40" cy="446.73" r="2.45" fill="#0a0a0a"/>
<circle cx="135.48" cy="448.74" r="2.45" fill="#0a0a0a"/>
<circle cx="133.06" cy="451.35" r="2.45" fill="#0a0a0a"/>
<circle cx="134.67" cy="452.66" r="2.45" fill="#0a0a0a"/>
<circle cx="153.17" cy="458.30" r="2.45" fill="#0a0a0a"/>
<circle cx="134.67" cy="464.33" r="2.45" fill="#0a0a0a"/>
<circle cx="183.03" cy="466.54" r="2.45" fill="#0a0a0a"/>
<circle cx="221.13" cy="442.60" r="2.45" fill="#0a0a0a"/>
<circle cx="204.84" cy="414.09" r="2.45" fill="#0a0a0a"/>
<circle cx="224.26" cy="414.55" r="2.45" fill="#0a0a0a"/>
<circle cx="164.16" cy="380.47" r="2.45" fill="#0a0a0a"/>
<circle cx="171.44" cy="377.92" r="2.45" fill="#0a0a0a"/>
<rect x="161.7" y="290.5" width="127.6" height="30.2" fill="#fff" stroke="#222" stroke-width="1.1"/>
<polygon points="174.4,298.9 181.2,298.9 177.8,293.1" fill="#d8342a" stroke="#5a1a10" stroke-width="0.6"/>
<rect x="169.2" y="302.1" width="16.6" height="6.4" fill="#f6f2cd" stroke="#e7c457" stroke-width="1.4"/>
<rect x="169.2" y="311.8" width="16.6" height="6.4" fill="#d3f0fb" stroke="#66c4ea" stroke-width="1.4"/>
<text x="193.9" y="299.5" font-size="7" font-weight="bold" fill="#111" stroke="#111" stroke-width="0.28" text-anchor="start" >Experiment Results</text>
<text x="193.9" y="308.2" font-size="7" font-weight="bold" fill="#111" stroke="#111" stroke-width="0.28" text-anchor="start" >Previous Hypervolume</text>
<text x="193.9" y="317.4" font-size="7" font-weight="bold" fill="#111" stroke="#111" stroke-width="0.28" text-anchor="start" >Hypervolume Improvement</text>
<line x1="171.6" y1="320.2" x2="171.6" y2="376.0" stroke="#9c9c9c" stroke-width="1.6" stroke-dasharray="4.2,1.9"/>
<line x1="206.1" y1="320.2" x2="206.1" y2="382.0" stroke="#9c9c9c" stroke-width="1.6" stroke-dasharray="4.2,1.9"/>
<line x1="209.0" y1="384.6" x2="289.3" y2="384.6" stroke="#9c9c9c" stroke-width="1.6" stroke-dasharray="4.2,1.9"/>
<line x1="226.0" y1="414.8" x2="289.3" y2="414.8" stroke="#9c9c9c" stroke-width="1.6" stroke-dasharray="4.2,1.9"/>
<line x1="174.2" y1="362.4" x2="198.1" y2="362.4" stroke="#000" stroke-width="2.4"/>
<polygon points="197.1,359.1 203.7,362.4 197.1,365.7" fill="#000"/>
<text x="189.2" y="357.0" font-size="9.8" font-weight="bold" fill="#111" stroke="#111" stroke-width="0.12" text-anchor="middle" >3.5<tspan font-weight="normal" stroke-width="0.45">%</tspan></text>
<line x1="232.8" y1="411.0" x2="232.8" y2="393.8" stroke="#000" stroke-width="2.4"/>
<polygon points="229.5,394.8 232.8,388.2 236.1,394.8" fill="#000"/>
<text x="236.8" y="403.0" font-size="10" font-weight="bold" fill="#111" stroke="#111" stroke-width="0.28" text-anchor="start" >125 MPa</text>
<line x1="156.0" y1="368.0" x2="159.4" y2="377.0" stroke="#555" stroke-width="0.75" stroke-dasharray="2.2,1.2"/>
<line x1="156.0" y1="368.0" x2="204.0" y2="382.0" stroke="#555" stroke-width="0.75" stroke-dasharray="2.2,1.2"/>
<line x1="215.0" y1="377.0" x2="206.1" y2="382.0" stroke="#555" stroke-width="0.75" stroke-dasharray="2.2,1.2"/>
<line x1="215.0" y1="377.0" x2="164.0" y2="378.0" stroke="#555" stroke-width="0.75" stroke-dasharray="2.2,1.2"/>
<polygon points="202.6,387.3 209.6,387.3 206.1,381.5" fill="#d8342a" stroke="#4a1208" stroke-width="0.7"/>
<polygon points="158.8,376.6 161.8,379.6 158.8,382.6 155.8,379.6" fill="#eeec50" stroke="#151500" stroke-width="1.1"/>
<polygon points="161.8,376.9 164.8,379.9 161.8,382.9 158.8,379.9" fill="#eeec50" stroke="#151500" stroke-width="1.1"/>
<polygon points="164.3,377.2 167.3,380.2 164.3,383.2 161.3,380.2" fill="#eeec50" stroke="#151500" stroke-width="1.1"/>
<text x="145.6" y="366.6" font-size="9.1" font-weight="bold" fill="#555" stroke="#555" stroke-width="0.28" text-anchor="start" >3-1</text>
<text x="216.0" y="378.5" font-size="9.1" font-weight="bold" fill="#555" stroke="#555" stroke-width="0.28" text-anchor="start" >3-2</text>
<line x1="70.87" y1="476.0" x2="70.87" y2="473.7" stroke="#1a1a1a" stroke-width="1.2"/>
<line x1="95.14" y1="476.0" x2="95.14" y2="472.2" stroke="#1a1a1a" stroke-width="1.2"/>
<line x1="119.41" y1="476.0" x2="119.41" y2="473.7" stroke="#1a1a1a" stroke-width="1.2"/>
<line x1="143.68" y1="476.0" x2="143.68" y2="472.2" stroke="#1a1a1a" stroke-width="1.2"/>
<line x1="167.95" y1="476.0" x2="167.95" y2="473.7" stroke="#1a1a1a" stroke-width="1.2"/>
<line x1="192.22" y1="476.0" x2="192.22" y2="472.2" stroke="#1a1a1a" stroke-width="1.2"/>
<line x1="216.49" y1="476.0" x2="216.49" y2="473.7" stroke="#1a1a1a" stroke-width="1.2"/>
<line x1="240.76" y1="476.0" x2="240.76" y2="472.2" stroke="#1a1a1a" stroke-width="1.2"/>
<line x1="265.03" y1="476.0" x2="265.03" y2="473.7" stroke="#1a1a1a" stroke-width="1.2"/>
<line x1="46.6" y1="464.41" x2="48.9" y2="464.41" stroke="#1a1a1a" stroke-width="1.2"/>
<line x1="46.6" y1="452.81" x2="50.4" y2="452.81" stroke="#1a1a1a" stroke-width="1.2"/>
<line x1="46.6" y1="441.22" x2="48.9" y2="441.22" stroke="#1a1a1a" stroke-width="1.2"/>
<line x1="46.6" y1="429.62" x2="50.4" y2="429.62" stroke="#1a1a1a" stroke-width="1.2"/>
<line x1="46.6" y1="418.03" x2="48.9" y2="418.03" stroke="#1a1a1a" stroke-width="1.2"/>
<line x1="46.6" y1="406.44" x2="50.4" y2="406.44" stroke="#1a1a1a" stroke-width="1.2"/>
<line x1="46.6" y1="394.84" x2="48.9" y2="394.84" stroke="#1a1a1a" stroke-width="1.2"/>
<line x1="46.6" y1="383.25" x2="50.4" y2="383.25" stroke="#1a1a1a" stroke-width="1.2"/>
<line x1="46.6" y1="371.66" x2="48.9" y2="371.66" stroke="#1a1a1a" stroke-width="1.2"/>
<line x1="46.6" y1="360.06" x2="50.4" y2="360.06" stroke="#1a1a1a" stroke-width="1.2"/>
<line x1="46.6" y1="348.47" x2="48.9" y2="348.47" stroke="#1a1a1a" stroke-width="1.2"/>
<line x1="46.6" y1="336.88" x2="50.4" y2="336.88" stroke="#1a1a1a" stroke-width="1.2"/>
<line x1="46.6" y1="325.28" x2="48.9" y2="325.28" stroke="#1a1a1a" stroke-width="1.2"/>
<line x1="46.6" y1="313.69" x2="50.4" y2="313.69" stroke="#1a1a1a" stroke-width="1.2"/>
<line x1="46.6" y1="302.09" x2="48.9" y2="302.09" stroke="#1a1a1a" stroke-width="1.2"/>
<rect x="46.6" y="290.5" width="242.70" height="185.50" fill="none" stroke="#1a1a1a" stroke-width="1.5"/>
<text x="46.6" y="487.3" font-size="9" font-weight="bold" fill="#111" stroke="#111" stroke-width="0.28" text-anchor="middle" >0</text>
<text x="95.1" y="487.3" font-size="9" font-weight="bold" fill="#111" stroke="#111" stroke-width="0.28" text-anchor="middle" >5</text>
<text x="143.7" y="487.3" font-size="9" font-weight="bold" fill="#111" stroke="#111" stroke-width="0.28" text-anchor="middle" >10</text>
<text x="192.2" y="487.3" font-size="9" font-weight="bold" fill="#111" stroke="#111" stroke-width="0.28" text-anchor="middle" >15</text>
<text x="240.8" y="487.3" font-size="9" font-weight="bold" fill="#111" stroke="#111" stroke-width="0.28" text-anchor="middle" >20</text>
<text x="289.3" y="487.3" font-size="9" font-weight="bold" fill="#111" stroke="#111" stroke-width="0.28" text-anchor="middle" >25</text>
<text x="41.8" y="479.2" font-size="9" font-weight="bold" fill="#111" stroke="#111" stroke-width="0.28" text-anchor="end" >800</text>
<text x="41.8" y="456.0" font-size="9" font-weight="bold" fill="#111" stroke="#111" stroke-width="0.28" text-anchor="end" >900</text>
<text x="41.8" y="432.8" font-size="9" font-weight="bold" fill="#111" stroke="#111" stroke-width="0.28" text-anchor="end" >1000</text>
<text x="41.8" y="409.7" font-size="9" font-weight="bold" fill="#111" stroke="#111" stroke-width="0.28" text-anchor="end" >1100</text>
<text x="41.8" y="386.5" font-size="9" font-weight="bold" fill="#111" stroke="#111" stroke-width="0.28" text-anchor="end" >1200</text>
<text x="41.8" y="363.3" font-size="9" font-weight="bold" fill="#111" stroke="#111" stroke-width="0.28" text-anchor="end" >1300</text>
<text x="41.8" y="340.1" font-size="9" font-weight="bold" fill="#111" stroke="#111" stroke-width="0.28" text-anchor="end" >1400</text>
<text x="41.8" y="316.9" font-size="9" font-weight="bold" fill="#111" stroke="#111" stroke-width="0.28" text-anchor="end" >1500</text>
<text x="41.8" y="293.7" font-size="9" font-weight="bold" fill="#111" stroke="#111" stroke-width="0.28" text-anchor="end" >1600</text>
<text x="168.5" y="502.6" font-size="10" font-weight="bold" fill="#111" stroke="#111" stroke-width="0.28" text-anchor="middle" >Total Elongation, %</text>
<text x="0" y="0" font-size="9.6" font-weight="bold" fill="#111" stroke="#111" stroke-width="0.28" text-anchor="middle" transform="translate(12.5,382.0) rotate(-90)">Ultimate Tensile Strength, MPa</text>
<text x="0.3" y="282" font-size="26.5" font-weight="bold" fill="#000" stroke="#000" stroke-width="0.4">c</text>
<polygon points="360.00,476.00 360.00,338.64 421.03,338.64 421.03,341.88 427.23,341.88 427.23,360.38 445.25,360.38 445.25,377.49 484.59,377.49 484.59,384.54 519.85,384.54 519.85,414.72 537.29,414.72 537.29,476.00" fill="#f6f2cd"/>
<polygon points="360.00,476.00 360.00,338.64 421.03,338.64 421.03,341.88 427.23,341.88 427.23,360.38 445.25,360.38 445.25,377.49 484.59,377.49 484.59,384.54 519.85,384.54 519.85,398.99 530.41,398.99 530.41,414.72 537.29,414.72 537.29,476.00" fill="#d3f0fb"/>
<polygon points="360.00,476.00 360.00,338.64 421.03,338.64 421.03,341.88 427.23,341.88 427.23,360.38 445.25,360.38 445.25,377.49 484.59,377.49 484.59,384.54 519.85,384.54 519.85,414.72 537.29,414.72 537.29,476.00" fill="#f6f2cd"/>
<polyline points="360.00,338.64 421.03,338.64 421.03,341.88 427.23,341.88 427.23,360.38 445.25,360.38 445.25,377.49 484.59,377.49 484.59,384.54 519.85,384.54 519.85,398.99 530.41,398.99 530.41,414.72 537.29,414.72 537.29,476.00" fill="none" stroke="#66c4ea" stroke-width="2.2"/>
<polyline points="360.00,338.64 421.03,338.64 421.03,341.88 427.23,341.88 427.23,360.38 445.25,360.38 445.25,377.49 484.59,377.49 484.59,384.54 519.85,384.54 519.85,414.72 537.29,414.72 537.29,476.00" fill="none" stroke="#e7c457" stroke-width="2.4"/>
<circle cx="420.90" cy="338.55" r="2.45" fill="#0a0a0a"/>
<circle cx="427.12" cy="341.86" r="2.45" fill="#0a0a0a"/>
<circle cx="390.20" cy="348.19" r="2.45" fill="#0a0a0a"/>
<circle cx="419.60" cy="351.50" r="2.45" fill="#0a0a0a"/>
<circle cx="378.96" cy="355.31" r="2.45" fill="#0a0a0a"/>
<circle cx="396.52" cy="358.02" r="2.45" fill="#0a0a0a"/>
<circle cx="390.80" cy="363.23" r="2.45" fill="#0a0a0a"/>
<circle cx="393.21" cy="364.54" r="2.45" fill="#0a0a0a"/>
<circle cx="398.13" cy="367.95" r="2.45" fill="#0a0a0a"/>
<circle cx="400.43" cy="367.75" r="2.45" fill="#0a0a0a"/>
<circle cx="430.33" cy="367.95" r="2.45" fill="#0a0a0a"/>
<circle cx="412.37" cy="371.66" r="2.45" fill="#0a0a0a"/>
<circle cx="417.89" cy="373.77" r="2.45" fill="#0a0a0a"/>
<circle cx="420.90" cy="376.38" r="2.45" fill="#0a0a0a"/>
<circle cx="409.06" cy="377.48" r="2.45" fill="#0a0a0a"/>
<circle cx="411.97" cy="377.88" r="2.45" fill="#0a0a0a"/>
<circle cx="427.72" cy="378.18" r="2.45" fill="#0a0a0a"/>
<circle cx="414.28" cy="383.40" r="2.45" fill="#0a0a0a"/>
<circle cx="417.49" cy="384.10" r="2.45" fill="#0a0a0a"/>
<circle cx="415.88" cy="385.41" r="2.45" fill="#0a0a0a"/>
<circle cx="420.90" cy="387.01" r="2.45" fill="#0a0a0a"/>
<circle cx="425.82" cy="386.01" r="2.45" fill="#0a0a0a"/>
<circle cx="427.12" cy="388.32" r="2.45" fill="#0a0a0a"/>
<circle cx="429.73" cy="384.10" r="2.45" fill="#0a0a0a"/>
<circle cx="433.64" cy="382.80" r="2.45" fill="#0a0a0a"/>
<circle cx="436.95" cy="382.50" r="2.45" fill="#0a0a0a"/>
<circle cx="392.81" cy="387.01" r="2.45" fill="#0a0a0a"/>
<circle cx="427.52" cy="407.88" r="2.45" fill="#0a0a0a"/>
<circle cx="435.35" cy="408.58" r="2.45" fill="#0a0a0a"/>
<circle cx="427.52" cy="414.80" r="2.45" fill="#0a0a0a"/>
<circle cx="431.44" cy="415.60" r="2.45" fill="#0a0a0a"/>
<circle cx="436.75" cy="419.52" r="2.45" fill="#0a0a0a"/>
<circle cx="391.91" cy="421.72" r="2.45" fill="#0a0a0a"/>
<circle cx="416.29" cy="424.03" r="2.45" fill="#0a0a0a"/>
<circle cx="389.30" cy="432.56" r="2.45" fill="#0a0a0a"/>
<circle cx="398.53" cy="434.57" r="2.45" fill="#0a0a0a"/>
<circle cx="403.74" cy="433.26" r="2.45" fill="#0a0a0a"/>
<circle cx="408.36" cy="438.58" r="2.45" fill="#0a0a0a"/>
<circle cx="403.14" cy="442.49" r="2.45" fill="#0a0a0a"/>
<circle cx="436.05" cy="438.58" r="2.45" fill="#0a0a0a"/>
<circle cx="436.75" cy="444.80" r="2.45" fill="#0a0a0a"/>
<circle cx="434.95" cy="447.21" r="2.45" fill="#0a0a0a"/>
<circle cx="430.03" cy="449.82" r="2.45" fill="#0a0a0a"/>
<circle cx="395.72" cy="447.41" r="2.45" fill="#0a0a0a"/>
<circle cx="388.90" cy="452.42" r="2.45" fill="#0a0a0a"/>
<circle cx="402.34" cy="452.72" r="2.45" fill="#0a0a0a"/>
<circle cx="409.26" cy="453.83" r="2.45" fill="#0a0a0a"/>
<circle cx="426.82" cy="454.93" r="2.45" fill="#0a0a0a"/>
<circle cx="433.04" cy="454.73" r="2.45" fill="#0a0a0a"/>
<circle cx="372.04" cy="469.48" r="2.45" fill="#0a0a0a"/>
<circle cx="445.28" cy="360.32" r="2.45" fill="#0a0a0a"/>
<circle cx="446.08" cy="372.56" r="2.45" fill="#0a0a0a"/>
<circle cx="444.98" cy="374.87" r="2.45" fill="#0a0a0a"/>
<circle cx="443.07" cy="389.32" r="2.45" fill="#0a0a0a"/>
<circle cx="454.51" cy="383.80" r="2.45" fill="#0a0a0a"/>
<circle cx="459.53" cy="383.40" r="2.45" fill="#0a0a0a"/>
<circle cx="453.61" cy="387.41" r="2.45" fill="#0a0a0a"/>
<circle cx="461.44" cy="390.62" r="2.45" fill="#0a0a0a"/>
<circle cx="460.13" cy="396.54" r="2.45" fill="#0a0a0a"/>
<circle cx="461.44" cy="406.57" r="2.45" fill="#0a0a0a"/>
<circle cx="474.28" cy="406.37" r="2.45" fill="#0a0a0a"/>
<circle cx="476.38" cy="407.68" r="2.45" fill="#0a0a0a"/>
<circle cx="495.35" cy="406.57" r="2.45" fill="#0a0a0a"/>
<circle cx="439.06" cy="405.27" r="2.45" fill="#0a0a0a"/>
<circle cx="447.39" cy="410.79" r="2.45" fill="#0a0a0a"/>
<circle cx="442.07" cy="421.72" r="2.45" fill="#0a0a0a"/>
<circle cx="456.62" cy="419.12" r="2.45" fill="#0a0a0a"/>
<circle cx="466.35" cy="417.11" r="2.45" fill="#0a0a0a"/>
<circle cx="497.45" cy="418.81" r="2.45" fill="#0a0a0a"/>
<circle cx="508.49" cy="418.71" r="2.45" fill="#0a0a0a"/>
<circle cx="474.28" cy="426.34" r="2.45" fill="#0a0a0a"/>
<circle cx="479.90" cy="423.73" r="2.45" fill="#0a0a0a"/>
<circle cx="482.60" cy="426.34" r="2.45" fill="#0a0a0a"/>
<circle cx="485.61" cy="429.25" r="2.45" fill="#0a0a0a"/>
<circle cx="495.05" cy="427.94" r="2.45" fill="#0a0a0a"/>
<circle cx="496.15" cy="430.55" r="2.45" fill="#0a0a0a"/>
<circle cx="490.03" cy="431.86" r="2.45" fill="#0a0a0a"/>
<circle cx="491.13" cy="434.97" r="2.45" fill="#0a0a0a"/>
<circle cx="471.37" cy="433.26" r="2.45" fill="#0a0a0a"/>
<circle cx="475.58" cy="430.05" r="2.45" fill="#0a0a0a"/>
<circle cx="475.08" cy="435.87" r="2.45" fill="#0a0a0a"/>
<circle cx="477.69" cy="433.26" r="2.45" fill="#0a0a0a"/>
<circle cx="480.30" cy="435.57" r="2.45" fill="#0a0a0a"/>
<circle cx="479.90" cy="440.18" r="2.45" fill="#0a0a0a"/>
<circle cx="491.13" cy="441.49" r="2.45" fill="#0a0a0a"/>
<circle cx="504.98" cy="445.10" r="2.45" fill="#0a0a0a"/>
<circle cx="448.99" cy="434.26" r="2.45" fill="#0a0a0a"/>
<circle cx="442.67" cy="436.27" r="2.45" fill="#0a0a0a"/>
<circle cx="463.44" cy="437.58" r="2.45" fill="#0a0a0a"/>
<circle cx="464.55" cy="439.58" r="2.45" fill="#0a0a0a"/>
<circle cx="463.24" cy="443.19" r="2.45" fill="#0a0a0a"/>
<circle cx="470.06" cy="444.40" r="2.45" fill="#0a0a0a"/>
<circle cx="475.98" cy="448.51" r="2.45" fill="#0a0a0a"/>
<circle cx="442.07" cy="446.40" r="2.45" fill="#0a0a0a"/>
<circle cx="449.60" cy="443.49" r="2.45" fill="#0a0a0a"/>
<circle cx="450.30" cy="445.50" r="2.45" fill="#0a0a0a"/>
<circle cx="453.61" cy="446.81" r="2.45" fill="#0a0a0a"/>
<circle cx="448.69" cy="448.81" r="2.45" fill="#0a0a0a"/>
<circle cx="446.29" cy="451.42" r="2.45" fill="#0a0a0a"/>
<circle cx="447.89" cy="452.72" r="2.45" fill="#0a0a0a"/>
<circle cx="466.35" cy="458.34" r="2.45" fill="#0a0a0a"/>
<circle cx="447.89" cy="464.36" r="2.45" fill="#0a0a0a"/>
<circle cx="496.15" cy="466.57" r="2.45" fill="#0a0a0a"/>
<circle cx="534.18" cy="442.69" r="2.45" fill="#0a0a0a"/>
<circle cx="517.91" cy="414.26" r="2.45" fill="#0a0a0a"/>
<circle cx="537.29" cy="414.72" r="2.45" fill="#0a0a0a"/>
<circle cx="477.32" cy="380.73" r="2.45" fill="#0a0a0a"/>
<circle cx="484.59" cy="378.18" r="2.45" fill="#0a0a0a"/>
<circle cx="519.17" cy="384.89" r="2.45" fill="#0a0a0a"/>
<rect x="474.6" y="291.0" width="127.6" height="30.2" fill="#fff" stroke="#222" stroke-width="1.1"/>
<polygon points="487.3,299.4 494.1,299.4 490.7,293.6" fill="#d8342a" stroke="#5a1a10" stroke-width="0.6"/>
<rect x="482.1" y="302.6" width="16.6" height="6.4" fill="#f6f2cd" stroke="#e7c457" stroke-width="1.4"/>
<rect x="482.1" y="312.3" width="16.6" height="6.4" fill="#d3f0fb" stroke="#66c4ea" stroke-width="1.4"/>
<text x="506.8" y="300.0" font-size="7" font-weight="bold" fill="#111" stroke="#111" stroke-width="0.28" text-anchor="start" >Experiment Results</text>
<text x="506.8" y="308.7" font-size="7" font-weight="bold" fill="#111" stroke="#111" stroke-width="0.28" text-anchor="start" >Previous Hypervolume</text>
<text x="506.8" y="317.9" font-size="7" font-weight="bold" fill="#111" stroke="#111" stroke-width="0.28" text-anchor="start" >Hypervolume Improvement</text>
<line x1="519.8" y1="320.7" x2="519.8" y2="382.0" stroke="#9c9c9c" stroke-width="1.6" stroke-dasharray="4.2,1.9"/>
<line x1="530.5" y1="320.7" x2="530.5" y2="396.0" stroke="#9c9c9c" stroke-width="1.6" stroke-dasharray="4.2,1.9"/>
<line x1="533.0" y1="399.0" x2="602.2" y2="399.0" stroke="#9c9c9c" stroke-width="1.6" stroke-dasharray="4.2,1.9"/>
<line x1="539.0" y1="415.0" x2="602.2" y2="415.0" stroke="#9c9c9c" stroke-width="1.6" stroke-dasharray="4.2,1.9"/>
<line x1="520.7" y1="368.9" x2="525.3" y2="368.9" stroke="#000" stroke-width="1.8"/>
<polygon points="524.3,365.7 529.8,368.9 524.3,372.1" fill="#000"/>
<text x="506.2" y="372.4" font-size="9.8" font-weight="bold" fill="#111" stroke="#111" stroke-width="0.12" text-anchor="middle" >1.2<tspan font-weight="normal" stroke-width="0.45">%</tspan></text>
<line x1="544.9" y1="412.7" x2="544.9" y2="406.9" stroke="#000" stroke-width="1.8"/>
<polygon points="541.7,407.9 544.9,402.4 548.1,407.9" fill="#000"/>
<text x="551.0" y="411.2" font-size="9.8" font-weight="bold" fill="#111" stroke="#111" stroke-width="0.28" text-anchor="start" >69.3 MPa</text>
<line x1="471.0" y1="366.0" x2="508.0" y2="382.0" stroke="#555" stroke-width="0.75" stroke-dasharray="2.2,1.2"/>
<line x1="471.0" y1="366.0" x2="530.0" y2="396.0" stroke="#555" stroke-width="0.75" stroke-dasharray="2.2,1.2"/>
<line x1="541.0" y1="386.0" x2="512.0" y2="383.0" stroke="#555" stroke-width="0.75" stroke-dasharray="2.2,1.2"/>
<line x1="541.0" y1="386.0" x2="503.0" y2="396.0" stroke="#555" stroke-width="0.75" stroke-dasharray="2.2,1.2"/>
<polygon points="498.5,400.6 505.5,400.6 502.0,394.8" fill="#d8342a" stroke="#4a1208" stroke-width="0.7"/>
<polygon points="527.0,401.7 534.0,401.7 530.5,395.9" fill="#d8342a" stroke="#4a1208" stroke-width="0.7"/>
<polygon points="508.8,380.0 511.8,383.0 508.8,386.0 505.8,383.0" fill="#eeec50" stroke="#151500" stroke-width="1.1"/>
<polygon points="512.2,380.0 515.2,383.0 512.2,386.0 509.2,383.0" fill="#eeec50" stroke="#151500" stroke-width="1.1"/>
<text x="465.0" y="365.2" font-size="9.1" font-weight="bold" fill="#555" stroke="#555" stroke-width="0.28" text-anchor="start" >4-1</text>
<text x="543.5" y="388.6" font-size="9.1" font-weight="bold" fill="#555" stroke="#555" stroke-width="0.28" text-anchor="start" >4-2</text>
<line x1="384.22" y1="476.0" x2="384.22" y2="473.7" stroke="#1a1a1a" stroke-width="1.2"/>
<line x1="408.44" y1="476.0" x2="408.44" y2="472.2" stroke="#1a1a1a" stroke-width="1.2"/>
<line x1="432.66" y1="476.0" x2="432.66" y2="473.7" stroke="#1a1a1a" stroke-width="1.2"/>
<line x1="456.88" y1="476.0" x2="456.88" y2="472.2" stroke="#1a1a1a" stroke-width="1.2"/>
<line x1="481.10" y1="476.0" x2="481.10" y2="473.7" stroke="#1a1a1a" stroke-width="1.2"/>
<line x1="505.32" y1="476.0" x2="505.32" y2="472.2" stroke="#1a1a1a" stroke-width="1.2"/>
<line x1="529.54" y1="476.0" x2="529.54" y2="473.7" stroke="#1a1a1a" stroke-width="1.2"/>
<line x1="553.76" y1="476.0" x2="553.76" y2="472.2" stroke="#1a1a1a" stroke-width="1.2"/>
<line x1="577.98" y1="476.0" x2="577.98" y2="473.7" stroke="#1a1a1a" stroke-width="1.2"/>
<line x1="360.0" y1="464.44" x2="362.3" y2="464.44" stroke="#1a1a1a" stroke-width="1.2"/>
<line x1="360.0" y1="452.88" x2="363.8" y2="452.88" stroke="#1a1a1a" stroke-width="1.2"/>
<line x1="360.0" y1="441.31" x2="362.3" y2="441.31" stroke="#1a1a1a" stroke-width="1.2"/>
<line x1="360.0" y1="429.75" x2="363.8" y2="429.75" stroke="#1a1a1a" stroke-width="1.2"/>
<line x1="360.0" y1="418.19" x2="362.3" y2="418.19" stroke="#1a1a1a" stroke-width="1.2"/>
<line x1="360.0" y1="406.62" x2="363.8" y2="406.62" stroke="#1a1a1a" stroke-width="1.2"/>
<line x1="360.0" y1="395.06" x2="362.3" y2="395.06" stroke="#1a1a1a" stroke-width="1.2"/>
<line x1="360.0" y1="383.50" x2="363.8" y2="383.50" stroke="#1a1a1a" stroke-width="1.2"/>
<line x1="360.0" y1="371.94" x2="362.3" y2="371.94" stroke="#1a1a1a" stroke-width="1.2"/>
<line x1="360.0" y1="360.38" x2="363.8" y2="360.38" stroke="#1a1a1a" stroke-width="1.2"/>
<line x1="360.0" y1="348.81" x2="362.3" y2="348.81" stroke="#1a1a1a" stroke-width="1.2"/>
<line x1="360.0" y1="337.25" x2="363.8" y2="337.25" stroke="#1a1a1a" stroke-width="1.2"/>
<line x1="360.0" y1="325.69" x2="362.3" y2="325.69" stroke="#1a1a1a" stroke-width="1.2"/>
<line x1="360.0" y1="314.12" x2="363.8" y2="314.12" stroke="#1a1a1a" stroke-width="1.2"/>
<line x1="360.0" y1="302.56" x2="362.3" y2="302.56" stroke="#1a1a1a" stroke-width="1.2"/>
<rect x="360.0" y="291.0" width="242.20" height="185.00" fill="none" stroke="#1a1a1a" stroke-width="1.5"/>
<text x="360.0" y="487.3" font-size="9" font-weight="bold" fill="#111" stroke="#111" stroke-width="0.28" text-anchor="middle" >0</text>
<text x="408.4" y="487.3" font-size="9" font-weight="bold" fill="#111" stroke="#111" stroke-width="0.28" text-anchor="middle" >5</text>
<text x="456.9" y="487.3" font-size="9" font-weight="bold" fill="#111" stroke="#111" stroke-width="0.28" text-anchor="middle" >10</text>
<text x="505.3" y="487.3" font-size="9" font-weight="bold" fill="#111" stroke="#111" stroke-width="0.28" text-anchor="middle" >15</text>
<text x="553.8" y="487.3" font-size="9" font-weight="bold" fill="#111" stroke="#111" stroke-width="0.28" text-anchor="middle" >20</text>
<text x="602.2" y="487.3" font-size="9" font-weight="bold" fill="#111" stroke="#111" stroke-width="0.28" text-anchor="middle" >25</text>
<text x="355.2" y="479.2" font-size="9" font-weight="bold" fill="#111" stroke="#111" stroke-width="0.28" text-anchor="end" >800</text>
<text x="355.2" y="456.1" font-size="9" font-weight="bold" fill="#111" stroke="#111" stroke-width="0.28" text-anchor="end" >900</text>
<text x="355.2" y="433.0" font-size="9" font-weight="bold" fill="#111" stroke="#111" stroke-width="0.28" text-anchor="end" >1000</text>
<text x="355.2" y="409.8" font-size="9" font-weight="bold" fill="#111" stroke="#111" stroke-width="0.28" text-anchor="end" >1100</text>
<text x="355.2" y="386.7" font-size="9" font-weight="bold" fill="#111" stroke="#111" stroke-width="0.28" text-anchor="end" >1200</text>
<text x="355.2" y="363.6" font-size="9" font-weight="bold" fill="#111" stroke="#111" stroke-width="0.28" text-anchor="end" >1300</text>
<text x="355.2" y="340.5" font-size="9" font-weight="bold" fill="#111" stroke="#111" stroke-width="0.28" text-anchor="end" >1400</text>
<text x="355.2" y="317.3" font-size="9" font-weight="bold" fill="#111" stroke="#111" stroke-width="0.28" text-anchor="end" >1500</text>
<text x="355.2" y="294.2" font-size="9" font-weight="bold" fill="#111" stroke="#111" stroke-width="0.28" text-anchor="end" >1600</text>
<text x="481.6" y="502.6" font-size="10" font-weight="bold" fill="#111" stroke="#111" stroke-width="0.28" text-anchor="middle" >Total Elongation, %</text>
<text x="0" y="0" font-size="9.6" font-weight="bold" fill="#111" stroke="#111" stroke-width="0.28" text-anchor="middle" transform="translate(325.5,382.0) rotate(-90)">Ultimate Tensile Strength, MPa</text>
<text x="316.4" y="280.7" font-size="26.5" font-weight="bold" fill="#000" stroke="#000" stroke-width="0.4">d</text>
<polygon points="47.80,737.70 47.80,600.93 108.46,600.93 108.46,604.15 114.62,604.15 114.62,622.58 132.53,622.58 132.53,639.61 171.62,639.61 171.62,646.64 206.66,646.64 206.66,661.03 217.16,661.03 217.16,676.68 223.99,676.68 223.99,737.70" fill="#f6f2cd"/>
<polyline points="47.80,600.93 108.46,600.93 108.46,604.15 114.62,604.15 114.62,622.58 132.53,622.58 132.53,639.61 171.62,639.61 171.62,646.64 206.66,646.64 206.66,661.03 217.16,661.03 217.16,676.68 223.99,676.68 223.99,737.70" fill="none" stroke="#e7c457" stroke-width="2.4"/>
<circle cx="108.32" cy="600.85" r="2.45" fill="#0a0a0a"/>
<circle cx="114.51" cy="604.15" r="2.45" fill="#0a0a0a"/>
<circle cx="77.81" cy="610.44" r="2.45" fill="#0a0a0a"/>
<circle cx="107.03" cy="613.73" r="2.45" fill="#0a0a0a"/>
<circle cx="66.65" cy="617.53" r="2.45" fill="#0a0a0a"/>
<circle cx="84.09" cy="620.23" r="2.45" fill="#0a0a0a"/>
<circle cx="78.41" cy="625.42" r="2.45" fill="#0a0a0a"/>
<circle cx="80.80" cy="626.72" r="2.45" fill="#0a0a0a"/>
<circle cx="85.69" cy="630.12" r="2.45" fill="#0a0a0a"/>
<circle cx="87.98" cy="629.92" r="2.45" fill="#0a0a0a"/>
<circle cx="117.70" cy="630.12" r="2.45" fill="#0a0a0a"/>
<circle cx="99.85" cy="633.81" r="2.45" fill="#0a0a0a"/>
<circle cx="105.33" cy="635.91" r="2.45" fill="#0a0a0a"/>
<circle cx="108.32" cy="638.51" r="2.45" fill="#0a0a0a"/>
<circle cx="96.56" cy="639.61" r="2.45" fill="#0a0a0a"/>
<circle cx="99.45" cy="640.01" r="2.45" fill="#0a0a0a"/>
<circle cx="115.10" cy="640.31" r="2.45" fill="#0a0a0a"/>
<circle cx="101.74" cy="645.50" r="2.45" fill="#0a0a0a"/>
<circle cx="104.93" cy="646.20" r="2.45" fill="#0a0a0a"/>
<circle cx="103.34" cy="647.50" r="2.45" fill="#0a0a0a"/>
<circle cx="108.32" cy="649.10" r="2.45" fill="#0a0a0a"/>
<circle cx="113.21" cy="648.10" r="2.45" fill="#0a0a0a"/>
<circle cx="114.51" cy="650.39" r="2.45" fill="#0a0a0a"/>
<circle cx="117.10" cy="646.20" r="2.45" fill="#0a0a0a"/>
<circle cx="120.99" cy="644.90" r="2.45" fill="#0a0a0a"/>
<circle cx="124.28" cy="644.60" r="2.45" fill="#0a0a0a"/>
<circle cx="80.41" cy="649.10" r="2.45" fill="#0a0a0a"/>
<circle cx="114.90" cy="669.87" r="2.45" fill="#0a0a0a"/>
<circle cx="122.68" cy="670.57" r="2.45" fill="#0a0a0a"/>
<circle cx="114.90" cy="676.77" r="2.45" fill="#0a0a0a"/>
<circle cx="118.79" cy="677.57" r="2.45" fill="#0a0a0a"/>
<circle cx="124.08" cy="681.46" r="2.45" fill="#0a0a0a"/>
<circle cx="79.51" cy="683.66" r="2.45" fill="#0a0a0a"/>
<circle cx="103.74" cy="685.96" r="2.45" fill="#0a0a0a"/>
<circle cx="76.92" cy="694.45" r="2.45" fill="#0a0a0a"/>
<circle cx="86.09" cy="696.44" r="2.45" fill="#0a0a0a"/>
<circle cx="91.27" cy="695.15" r="2.45" fill="#0a0a0a"/>
<circle cx="95.86" cy="700.44" r="2.45" fill="#0a0a0a"/>
<circle cx="90.68" cy="704.34" r="2.45" fill="#0a0a0a"/>
<circle cx="123.38" cy="700.44" r="2.45" fill="#0a0a0a"/>
<circle cx="124.08" cy="706.63" r="2.45" fill="#0a0a0a"/>
<circle cx="122.28" cy="709.03" r="2.45" fill="#0a0a0a"/>
<circle cx="117.40" cy="711.63" r="2.45" fill="#0a0a0a"/>
<circle cx="83.30" cy="709.23" r="2.45" fill="#0a0a0a"/>
<circle cx="76.52" cy="714.23" r="2.45" fill="#0a0a0a"/>
<circle cx="89.88" cy="714.53" r="2.45" fill="#0a0a0a"/>
<circle cx="96.76" cy="715.62" r="2.45" fill="#0a0a0a"/>
<circle cx="114.21" cy="716.72" r="2.45" fill="#0a0a0a"/>
<circle cx="120.39" cy="716.52" r="2.45" fill="#0a0a0a"/>
<circle cx="59.77" cy="731.21" r="2.45" fill="#0a0a0a"/>
<circle cx="132.55" cy="622.53" r="2.45" fill="#0a0a0a"/>
<circle cx="133.35" cy="634.71" r="2.45" fill="#0a0a0a"/>
<circle cx="132.25" cy="637.01" r="2.45" fill="#0a0a0a"/>
<circle cx="130.36" cy="651.39" r="2.45" fill="#0a0a0a"/>
<circle cx="141.73" cy="645.90" r="2.45" fill="#0a0a0a"/>
<circle cx="146.71" cy="645.50" r="2.45" fill="#0a0a0a"/>
<circle cx="140.83" cy="649.50" r="2.45" fill="#0a0a0a"/>
<circle cx="148.61" cy="652.69" r="2.45" fill="#0a0a0a"/>
<circle cx="147.31" cy="658.59" r="2.45" fill="#0a0a0a"/>
<circle cx="148.61" cy="668.58" r="2.45" fill="#0a0a0a"/>
<circle cx="161.37" cy="668.38" r="2.45" fill="#0a0a0a"/>
<circle cx="163.46" cy="669.67" r="2.45" fill="#0a0a0a"/>
<circle cx="182.31" cy="668.58" r="2.45" fill="#0a0a0a"/>
<circle cx="126.37" cy="667.28" r="2.45" fill="#0a0a0a"/>
<circle cx="134.65" cy="672.77" r="2.45" fill="#0a0a0a"/>
<circle cx="129.36" cy="683.66" r="2.45" fill="#0a0a0a"/>
<circle cx="143.82" cy="681.06" r="2.45" fill="#0a0a0a"/>
<circle cx="153.49" cy="679.06" r="2.45" fill="#0a0a0a"/>
<circle cx="184.40" cy="680.76" r="2.45" fill="#0a0a0a"/>
<circle cx="195.37" cy="680.66" r="2.45" fill="#0a0a0a"/>
<circle cx="161.37" cy="688.25" r="2.45" fill="#0a0a0a"/>
<circle cx="166.95" cy="685.66" r="2.45" fill="#0a0a0a"/>
<circle cx="169.65" cy="688.25" r="2.45" fill="#0a0a0a"/>
<circle cx="172.64" cy="691.15" r="2.45" fill="#0a0a0a"/>
<circle cx="182.01" cy="689.85" r="2.45" fill="#0a0a0a"/>
<circle cx="183.11" cy="692.45" r="2.45" fill="#0a0a0a"/>
<circle cx="177.02" cy="693.75" r="2.45" fill="#0a0a0a"/>
<circle cx="178.12" cy="696.84" r="2.45" fill="#0a0a0a"/>
<circle cx="158.48" cy="695.15" r="2.45" fill="#0a0a0a"/>
<circle cx="162.67" cy="691.95" r="2.45" fill="#0a0a0a"/>
<circle cx="162.17" cy="697.74" r="2.45" fill="#0a0a0a"/>
<circle cx="164.76" cy="695.15" r="2.45" fill="#0a0a0a"/>
<circle cx="167.35" cy="697.44" r="2.45" fill="#0a0a0a"/>
<circle cx="166.95" cy="702.04" r="2.45" fill="#0a0a0a"/>
<circle cx="178.12" cy="703.34" r="2.45" fill="#0a0a0a"/>
<circle cx="191.88" cy="706.93" r="2.45" fill="#0a0a0a"/>
<circle cx="136.24" cy="696.15" r="2.45" fill="#0a0a0a"/>
<circle cx="129.96" cy="698.14" r="2.45" fill="#0a0a0a"/>
<circle cx="150.60" cy="699.44" r="2.45" fill="#0a0a0a"/>
<circle cx="151.70" cy="701.44" r="2.45" fill="#0a0a0a"/>
<circle cx="150.40" cy="705.04" r="2.45" fill="#0a0a0a"/>
<circle cx="157.18" cy="706.23" r="2.45" fill="#0a0a0a"/>
<circle cx="163.06" cy="710.33" r="2.45" fill="#0a0a0a"/>
<circle cx="129.36" cy="708.23" r="2.45" fill="#0a0a0a"/>
<circle cx="136.84" cy="705.34" r="2.45" fill="#0a0a0a"/>
<circle cx="137.54" cy="707.33" r="2.45" fill="#0a0a0a"/>
<circle cx="140.83" cy="708.63" r="2.45" fill="#0a0a0a"/>
<circle cx="135.94" cy="710.63" r="2.45" fill="#0a0a0a"/>
<circle cx="133.55" cy="713.23" r="2.45" fill="#0a0a0a"/>
<circle cx="135.15" cy="714.53" r="2.45" fill="#0a0a0a"/>
<circle cx="153.49" cy="720.12" r="2.45" fill="#0a0a0a"/>
<circle cx="135.15" cy="726.11" r="2.45" fill="#0a0a0a"/>
<circle cx="183.11" cy="728.31" r="2.45" fill="#0a0a0a"/>
<circle cx="220.90" cy="704.54" r="2.45" fill="#0a0a0a"/>
<circle cx="204.74" cy="676.22" r="2.45" fill="#0a0a0a"/>
<circle cx="223.99" cy="676.68" r="2.45" fill="#0a0a0a"/>
<circle cx="164.40" cy="642.84" r="2.45" fill="#0a0a0a"/>
<circle cx="171.62" cy="640.30" r="2.45" fill="#0a0a0a"/>
<circle cx="205.99" cy="646.98" r="2.45" fill="#0a0a0a"/>
<circle cx="188.85" cy="659.88" r="2.45" fill="#0a0a0a"/>
<circle cx="217.16" cy="661.03" r="2.45" fill="#0a0a0a"/>
<rect x="160.9" y="553.5" width="127.6" height="30.2" fill="#fff" stroke="#222" stroke-width="1.1"/>
<polygon points="173.6,561.9 180.4,561.9 177.0,556.1" fill="#d8342a" stroke="#5a1a10" stroke-width="0.6"/>
<rect x="168.4" y="565.1" width="16.6" height="6.4" fill="#f6f2cd" stroke="#e7c457" stroke-width="1.4"/>
<rect x="168.4" y="574.8" width="16.6" height="6.4" fill="#d3f0fb" stroke="#66c4ea" stroke-width="1.4"/>
<text x="193.1" y="562.5" font-size="7" font-weight="bold" fill="#111" stroke="#111" stroke-width="0.28" text-anchor="start" >Experiment Results</text>
<text x="193.1" y="571.2" font-size="7" font-weight="bold" fill="#111" stroke="#111" stroke-width="0.28" text-anchor="start" >Previous Hypervolume</text>
<text x="193.1" y="580.4" font-size="7" font-weight="bold" fill="#111" stroke="#111" stroke-width="0.28" text-anchor="start" >Hypervolume Improvement</text>
<line x1="133.0" y1="609.0" x2="118.5" y2="621.0" stroke="#555" stroke-width="0.75" stroke-dasharray="2.2,1.2"/>
<line x1="133.0" y1="609.0" x2="129.0" y2="638.0" stroke="#555" stroke-width="0.75" stroke-dasharray="2.2,1.2"/>
<line x1="187.0" y1="637.0" x2="174.0" y2="643.0" stroke="#555" stroke-width="0.75" stroke-dasharray="2.2,1.2"/>
<line x1="187.0" y1="637.0" x2="181.0" y2="649.0" stroke="#555" stroke-width="0.75" stroke-dasharray="2.2,1.2"/>
<polygon points="127.5,644.4 134.5,644.4 131.0,638.6" fill="#d8342a" stroke="#4a1208" stroke-width="0.7"/>
<polygon points="168.2,646.7 175.2,646.7 171.7,640.9" fill="#d8342a" stroke="#4a1208" stroke-width="0.7"/>
<polygon points="117.2,620.9 120.8,624.5 117.2,628.1 113.6,624.5" fill="#eeec50" stroke="#151500" stroke-width="1.1"/>
<polygon points="180.9,648.9 184.5,652.5 180.9,656.1 177.3,652.5" fill="#eeec50" stroke="#151500" stroke-width="1.1"/>
<text x="134.5" y="610.5" font-size="9.1" font-weight="bold" fill="#555" stroke="#555" stroke-width="0.28" text-anchor="start" >5-2</text>
<text x="190.8" y="639.3" font-size="9.1" font-weight="bold" fill="#555" stroke="#555" stroke-width="0.28" text-anchor="start" >5-1</text>
<line x1="71.87" y1="737.7" x2="71.87" y2="735.4000000000001" stroke="#1a1a1a" stroke-width="1.2"/>
<line x1="95.94" y1="737.7" x2="95.94" y2="733.9000000000001" stroke="#1a1a1a" stroke-width="1.2"/>
<line x1="120.01" y1="737.7" x2="120.01" y2="735.4000000000001" stroke="#1a1a1a" stroke-width="1.2"/>
<line x1="144.08" y1="737.7" x2="144.08" y2="733.9000000000001" stroke="#1a1a1a" stroke-width="1.2"/>
<line x1="168.15" y1="737.7" x2="168.15" y2="735.4000000000001" stroke="#1a1a1a" stroke-width="1.2"/>
<line x1="192.22" y1="737.7" x2="192.22" y2="733.9000000000001" stroke="#1a1a1a" stroke-width="1.2"/>
<line x1="216.29" y1="737.7" x2="216.29" y2="735.4000000000001" stroke="#1a1a1a" stroke-width="1.2"/>
<line x1="240.36" y1="737.7" x2="240.36" y2="733.9000000000001" stroke="#1a1a1a" stroke-width="1.2"/>
<line x1="264.43" y1="737.7" x2="264.43" y2="735.4000000000001" stroke="#1a1a1a" stroke-width="1.2"/>
<line x1="47.8" y1="726.19" x2="50.099999999999994" y2="726.19" stroke="#1a1a1a" stroke-width="1.2"/>
<line x1="47.8" y1="714.68" x2="51.599999999999994" y2="714.68" stroke="#1a1a1a" stroke-width="1.2"/>
<line x1="47.8" y1="703.16" x2="50.099999999999994" y2="703.16" stroke="#1a1a1a" stroke-width="1.2"/>
<line x1="47.8" y1="691.65" x2="51.599999999999994" y2="691.65" stroke="#1a1a1a" stroke-width="1.2"/>
<line x1="47.8" y1="680.14" x2="50.099999999999994" y2="680.14" stroke="#1a1a1a" stroke-width="1.2"/>
<line x1="47.8" y1="668.62" x2="51.599999999999994" y2="668.62" stroke="#1a1a1a" stroke-width="1.2"/>
<line x1="47.8" y1="657.11" x2="50.099999999999994" y2="657.11" stroke="#1a1a1a" stroke-width="1.2"/>
<line x1="47.8" y1="645.60" x2="51.599999999999994" y2="645.60" stroke="#1a1a1a" stroke-width="1.2"/>
<line x1="47.8" y1="634.09" x2="50.099999999999994" y2="634.09" stroke="#1a1a1a" stroke-width="1.2"/>
<line x1="47.8" y1="622.58" x2="51.599999999999994" y2="622.58" stroke="#1a1a1a" stroke-width="1.2"/>
<line x1="47.8" y1="611.06" x2="50.099999999999994" y2="611.06" stroke="#1a1a1a" stroke-width="1.2"/>
<line x1="47.8" y1="599.55" x2="51.599999999999994" y2="599.55" stroke="#1a1a1a" stroke-width="1.2"/>
<line x1="47.8" y1="588.04" x2="50.099999999999994" y2="588.04" stroke="#1a1a1a" stroke-width="1.2"/>
<line x1="47.8" y1="576.52" x2="51.599999999999994" y2="576.52" stroke="#1a1a1a" stroke-width="1.2"/>
<line x1="47.8" y1="565.01" x2="50.099999999999994" y2="565.01" stroke="#1a1a1a" stroke-width="1.2"/>
<rect x="47.8" y="553.5" width="240.70" height="184.20" fill="none" stroke="#1a1a1a" stroke-width="1.5"/>
<text x="47.8" y="749.0" font-size="9" font-weight="bold" fill="#111" stroke="#111" stroke-width="0.28" text-anchor="middle" >0</text>
<text x="95.9" y="749.0" font-size="9" font-weight="bold" fill="#111" stroke="#111" stroke-width="0.28" text-anchor="middle" >5</text>
<text x="144.1" y="749.0" font-size="9" font-weight="bold" fill="#111" stroke="#111" stroke-width="0.28" text-anchor="middle" >10</text>
<text x="192.2" y="749.0" font-size="9" font-weight="bold" fill="#111" stroke="#111" stroke-width="0.28" text-anchor="middle" >15</text>
<text x="240.4" y="749.0" font-size="9" font-weight="bold" fill="#111" stroke="#111" stroke-width="0.28" text-anchor="middle" >20</text>
<text x="288.5" y="749.0" font-size="9" font-weight="bold" fill="#111" stroke="#111" stroke-width="0.28" text-anchor="middle" >25</text>
<text x="43.0" y="740.9" font-size="9" font-weight="bold" fill="#111" stroke="#111" stroke-width="0.28" text-anchor="end" >800</text>
<text x="43.0" y="717.9" font-size="9" font-weight="bold" fill="#111" stroke="#111" stroke-width="0.28" text-anchor="end" >900</text>
<text x="43.0" y="694.9" font-size="9" font-weight="bold" fill="#111" stroke="#111" stroke-width="0.28" text-anchor="end" >1000</text>
<text x="43.0" y="671.8" font-size="9" font-weight="bold" fill="#111" stroke="#111" stroke-width="0.28" text-anchor="end" >1100</text>
<text x="43.0" y="648.8" font-size="9" font-weight="bold" fill="#111" stroke="#111" stroke-width="0.28" text-anchor="end" >1200</text>
<text x="43.0" y="625.8" font-size="9" font-weight="bold" fill="#111" stroke="#111" stroke-width="0.28" text-anchor="end" >1300</text>
<text x="43.0" y="602.8" font-size="9" font-weight="bold" fill="#111" stroke="#111" stroke-width="0.28" text-anchor="end" >1400</text>
<text x="43.0" y="579.7" font-size="9" font-weight="bold" fill="#111" stroke="#111" stroke-width="0.28" text-anchor="end" >1500</text>
<text x="43.0" y="556.7" font-size="9" font-weight="bold" fill="#111" stroke="#111" stroke-width="0.28" text-anchor="end" >1600</text>
<text x="168.7" y="764.3" font-size="10" font-weight="bold" fill="#111" stroke="#111" stroke-width="0.28" text-anchor="middle" >Total Elongation, %</text>
<text x="0" y="0" font-size="9.6" font-weight="bold" fill="#111" stroke="#111" stroke-width="0.28" text-anchor="middle" transform="translate(12.5,644.0) rotate(-90)">Ultimate Tensile Strength, MPa</text>
<text x="0.3" y="541.3" font-size="26.5" font-weight="bold" fill="#000" stroke="#000" stroke-width="0.4">e</text>
<defs><filter id="bl" x="-20%" y="-20%" width="140%" height="140%"><feGaussianBlur stdDeviation="1.6"/></filter><radialGradient id="sph" cx="0.38" cy="0.35" r="0.7"><stop offset="0" stop-color="#ffb0a8"/><stop offset="0.35" stop-color="#ee2a22"/><stop offset="1" stop-color="#b00808"/></radialGradient></defs>
<g filter="url(#bl)">
<path d="M385,592 C385,580 389,576 398,573 C408,569.5 416,568.5 421,568.5 C425,569 427,573 429,580 C433,594 439,612 447,628 C455,643 466,654 478,665 C492,680 500,700 485,712 C470,720 440,721 410,720 C395,719 386,712 385,700 Z" fill="#f0d9c0" fill-opacity="0.3"/>
<path d="M392,636 C392,629 395,627.5 403,627.5 L427,628.5 C441,632 452,644 462,655 C474,668 484,680 488,692 C490,702 480,704 470,699 C455,691 440,682 425,671 C410,661 400,657 395,653 C392,649 392,643 392,636 Z" fill="#bccadf" fill-opacity="0.42"/>
<path d="M428,690 C427,672 440,660 460,658 C485,656 510,661 518,675 C526,690 518,708 500,712 C480,716 455,716 440,710 C431,706 428,698 428,690 Z" fill="#c4e0ba" fill-opacity="0.4"/>
</g>
<ellipse cx="460" cy="640.5" rx="19" ry="4.3" transform="rotate(0 460 640.5)" fill="#e68a98" fill-opacity="0.5"/>
<ellipse cx="484.5" cy="637.8" rx="8.5" ry="4.8" transform="rotate(-25 484.5 637.8)" fill="#e68a98" fill-opacity="0.5"/>
<ellipse cx="519.8" cy="644.5" rx="6.3" ry="8.4" transform="rotate(0 519.8 644.5)" fill="#e68a98" fill-opacity="0.5"/>
<ellipse cx="516" cy="657.3" rx="19.5" ry="4.8" transform="rotate(0 516 657.3)" fill="#e68a98" fill-opacity="0.5"/>
<ellipse cx="527.5" cy="673.2" rx="13.5" ry="5.5" transform="rotate(0 527.5 673.2)" fill="#e68a98" fill-opacity="0.5"/>
<rect x="420.57" y="595.25" width="3.5" height="3.5" fill="#fbe8cf" stroke="#ea9645" stroke-width="0.95"/>
<rect x="426.75" y="598.54" width="3.5" height="3.5" fill="#fbe8cf" stroke="#ea9645" stroke-width="0.95"/>
<rect x="390.11" y="604.83" width="3.5" height="3.5" fill="#fbe8cf" stroke="#ea9645" stroke-width="0.95"/>
<rect x="419.28" y="608.12" width="3.5" height="3.5" fill="#fbe8cf" stroke="#ea9645" stroke-width="0.95"/>
<rect x="378.96" y="611.91" width="3.5" height="3.5" fill="#fbe8cf" stroke="#ea9645" stroke-width="0.95"/>
<rect x="396.38" y="614.61" width="3.5" height="3.5" fill="#fbe8cf" stroke="#ea9645" stroke-width="0.95"/>
<rect x="390.71" y="619.79" width="3.5" height="3.5" fill="#fbe8cf" stroke="#ea9645" stroke-width="0.95"/>
<rect x="393.10" y="621.09" width="3.5" height="3.5" fill="#fbe8cf" stroke="#ea9645" stroke-width="0.95"/>
<rect x="397.98" y="624.48" width="3.5" height="3.5" fill="#fbe8cf" stroke="#ea9645" stroke-width="0.95"/>
<rect x="400.27" y="624.28" width="3.5" height="3.5" fill="#fbe8cf" stroke="#ea9645" stroke-width="0.95"/>
<rect x="429.93" y="624.48" width="3.5" height="3.5" fill="#fbe8cf" stroke="#ea9645" stroke-width="0.95"/>
<rect x="412.11" y="628.18" width="3.5" height="3.5" fill="#fbe8cf" stroke="#ea9645" stroke-width="0.95"/>
<rect x="417.59" y="630.27" width="3.5" height="3.5" fill="#fbe8cf" stroke="#ea9645" stroke-width="0.95"/>
<rect x="420.57" y="632.87" width="3.5" height="3.5" fill="#fbe8cf" stroke="#ea9645" stroke-width="0.95"/>
<rect x="408.83" y="633.96" width="3.5" height="3.5" fill="#fbe8cf" stroke="#ea9645" stroke-width="0.95"/>
<rect x="411.71" y="634.36" width="3.5" height="3.5" fill="#fbe8cf" stroke="#ea9645" stroke-width="0.95"/>
<rect x="427.34" y="634.66" width="3.5" height="3.5" fill="#fbe8cf" stroke="#ea9645" stroke-width="0.95"/>
<rect x="414.00" y="639.85" width="3.5" height="3.5" fill="#fbe8cf" stroke="#ea9645" stroke-width="0.95"/>
<rect x="417.19" y="640.55" width="3.5" height="3.5" fill="#fbe8cf" stroke="#ea9645" stroke-width="0.95"/>
<rect x="415.60" y="641.85" width="3.5" height="3.5" fill="#fbe8cf" stroke="#ea9645" stroke-width="0.95"/>
<rect x="420.57" y="643.44" width="3.5" height="3.5" fill="#fbe8cf" stroke="#ea9645" stroke-width="0.95"/>
<rect x="425.45" y="642.44" width="3.5" height="3.5" fill="#fbe8cf" stroke="#ea9645" stroke-width="0.95"/>
<rect x="426.75" y="644.74" width="3.5" height="3.5" fill="#fbe8cf" stroke="#ea9645" stroke-width="0.95"/>
<rect x="429.33" y="640.55" width="3.5" height="3.5" fill="#fbe8cf" stroke="#ea9645" stroke-width="0.95"/>
<rect x="433.22" y="639.25" width="3.5" height="3.5" fill="#fbe8cf" stroke="#ea9645" stroke-width="0.95"/>
<rect x="436.50" y="638.95" width="3.5" height="3.5" fill="#fbe8cf" stroke="#ea9645" stroke-width="0.95"/>
<rect x="392.70" y="643.44" width="3.5" height="3.5" fill="#fbe8cf" stroke="#ea9645" stroke-width="0.95"/>
<rect x="427.14" y="664.20" width="3.5" height="3.5" fill="#fbe8cf" stroke="#ea9645" stroke-width="0.95"/>
<rect x="434.91" y="664.90" width="3.5" height="3.5" fill="#fbe8cf" stroke="#ea9645" stroke-width="0.95"/>
<rect x="427.14" y="671.08" width="3.5" height="3.5" fill="#fbe8cf" stroke="#ea9645" stroke-width="0.95"/>
<rect x="431.03" y="671.88" width="3.5" height="3.5" fill="#fbe8cf" stroke="#ea9645" stroke-width="0.95"/>
<rect x="436.30" y="675.77" width="3.5" height="3.5" fill="#fbe8cf" stroke="#ea9645" stroke-width="0.95"/>
<rect x="391.81" y="677.97" width="3.5" height="3.5" fill="#fbe8cf" stroke="#ea9645" stroke-width="0.95"/>
<rect x="415.99" y="680.26" width="3.5" height="3.5" fill="#fbe8cf" stroke="#ea9645" stroke-width="0.95"/>
<rect x="389.22" y="688.74" width="3.5" height="3.5" fill="#fbe8cf" stroke="#ea9645" stroke-width="0.95"/>
<rect x="398.38" y="690.74" width="3.5" height="3.5" fill="#fbe8cf" stroke="#ea9645" stroke-width="0.95"/>
<rect x="403.55" y="689.44" width="3.5" height="3.5" fill="#fbe8cf" stroke="#ea9645" stroke-width="0.95"/>
<rect x="408.13" y="694.73" width="3.5" height="3.5" fill="#fbe8cf" stroke="#ea9645" stroke-width="0.95"/>
<rect x="402.95" y="698.62" width="3.5" height="3.5" fill="#fbe8cf" stroke="#ea9645" stroke-width="0.95"/>
<rect x="435.60" y="694.73" width="3.5" height="3.5" fill="#fbe8cf" stroke="#ea9645" stroke-width="0.95"/>
<rect x="436.30" y="700.92" width="3.5" height="3.5" fill="#fbe8cf" stroke="#ea9645" stroke-width="0.95"/>
<rect x="434.51" y="703.31" width="3.5" height="3.5" fill="#fbe8cf" stroke="#ea9645" stroke-width="0.95"/>
<rect x="429.63" y="705.91" width="3.5" height="3.5" fill="#fbe8cf" stroke="#ea9645" stroke-width="0.95"/>
<rect x="395.59" y="703.51" width="3.5" height="3.5" fill="#fbe8cf" stroke="#ea9645" stroke-width="0.95"/>
<rect x="388.82" y="708.50" width="3.5" height="3.5" fill="#fbe8cf" stroke="#ea9645" stroke-width="0.95"/>
<rect x="402.16" y="708.80" width="3.5" height="3.5" fill="#fbe8cf" stroke="#ea9645" stroke-width="0.95"/>
<rect x="409.03" y="709.90" width="3.5" height="3.5" fill="#fbe8cf" stroke="#ea9645" stroke-width="0.95"/>
<rect x="426.45" y="711.00" width="3.5" height="3.5" fill="#fbe8cf" stroke="#ea9645" stroke-width="0.95"/>
<rect x="432.62" y="710.80" width="3.5" height="3.5" fill="#fbe8cf" stroke="#ea9645" stroke-width="0.95"/>
<rect x="372.10" y="725.46" width="3.5" height="3.5" fill="#fbe8cf" stroke="#ea9645" stroke-width="0.95"/>
<rect x="444.76" y="616.90" width="3.5" height="3.5" fill="#fbe8cf" stroke="#ea9645" stroke-width="0.95"/>
<rect x="445.56" y="629.07" width="3.5" height="3.5" fill="#fbe8cf" stroke="#ea9645" stroke-width="0.95"/>
<rect x="444.46" y="631.37" width="3.5" height="3.5" fill="#fbe8cf" stroke="#ea9645" stroke-width="0.95"/>
<rect x="442.57" y="645.74" width="3.5" height="3.5" fill="#fbe8cf" stroke="#ea9645" stroke-width="0.95"/>
<rect x="453.92" y="640.25" width="3.5" height="3.5" fill="#fbe8cf" stroke="#ea9645" stroke-width="0.95"/>
<rect x="458.90" y="639.85" width="3.5" height="3.5" fill="#fbe8cf" stroke="#ea9645" stroke-width="0.95"/>
<rect x="453.02" y="643.84" width="3.5" height="3.5" fill="#fbe8cf" stroke="#ea9645" stroke-width="0.95"/>
<rect x="460.79" y="647.03" width="3.5" height="3.5" fill="#fbe8cf" stroke="#ea9645" stroke-width="0.95"/>
<rect x="459.50" y="652.92" width="3.5" height="3.5" fill="#fbe8cf" stroke="#ea9645" stroke-width="0.95"/>
<rect x="460.79" y="662.90" width="3.5" height="3.5" fill="#fbe8cf" stroke="#ea9645" stroke-width="0.95"/>
<rect x="473.53" y="662.70" width="3.5" height="3.5" fill="#fbe8cf" stroke="#ea9645" stroke-width="0.95"/>
<rect x="475.62" y="664.00" width="3.5" height="3.5" fill="#fbe8cf" stroke="#ea9645" stroke-width="0.95"/>
<rect x="494.44" y="662.90" width="3.5" height="3.5" fill="#fbe8cf" stroke="#ea9645" stroke-width="0.95"/>
<rect x="438.59" y="661.60" width="3.5" height="3.5" fill="#fbe8cf" stroke="#ea9645" stroke-width="0.95"/>
<rect x="446.85" y="667.09" width="3.5" height="3.5" fill="#fbe8cf" stroke="#ea9645" stroke-width="0.95"/>
<rect x="441.58" y="677.97" width="3.5" height="3.5" fill="#fbe8cf" stroke="#ea9645" stroke-width="0.95"/>
<rect x="456.01" y="675.37" width="3.5" height="3.5" fill="#fbe8cf" stroke="#ea9645" stroke-width="0.95"/>
<rect x="465.67" y="673.38" width="3.5" height="3.5" fill="#fbe8cf" stroke="#ea9645" stroke-width="0.95"/>
<rect x="496.53" y="675.07" width="3.5" height="3.5" fill="#fbe8cf" stroke="#ea9645" stroke-width="0.95"/>
<rect x="507.48" y="674.97" width="3.5" height="3.5" fill="#fbe8cf" stroke="#ea9645" stroke-width="0.95"/>
<rect x="473.53" y="682.56" width="3.5" height="3.5" fill="#fbe8cf" stroke="#ea9645" stroke-width="0.95"/>
<rect x="479.11" y="679.96" width="3.5" height="3.5" fill="#fbe8cf" stroke="#ea9645" stroke-width="0.95"/>
<rect x="481.79" y="682.56" width="3.5" height="3.5" fill="#fbe8cf" stroke="#ea9645" stroke-width="0.95"/>
<rect x="484.78" y="685.45" width="3.5" height="3.5" fill="#fbe8cf" stroke="#ea9645" stroke-width="0.95"/>
<rect x="494.14" y="684.15" width="3.5" height="3.5" fill="#fbe8cf" stroke="#ea9645" stroke-width="0.95"/>
<rect x="495.23" y="686.75" width="3.5" height="3.5" fill="#fbe8cf" stroke="#ea9645" stroke-width="0.95"/>
<rect x="489.16" y="688.05" width="3.5" height="3.5" fill="#fbe8cf" stroke="#ea9645" stroke-width="0.95"/>
<rect x="490.25" y="691.14" width="3.5" height="3.5" fill="#fbe8cf" stroke="#ea9645" stroke-width="0.95"/>
<rect x="470.64" y="689.44" width="3.5" height="3.5" fill="#fbe8cf" stroke="#ea9645" stroke-width="0.95"/>
<rect x="474.83" y="686.25" width="3.5" height="3.5" fill="#fbe8cf" stroke="#ea9645" stroke-width="0.95"/>
<rect x="474.33" y="692.04" width="3.5" height="3.5" fill="#fbe8cf" stroke="#ea9645" stroke-width="0.95"/>
<rect x="476.92" y="689.44" width="3.5" height="3.5" fill="#fbe8cf" stroke="#ea9645" stroke-width="0.95"/>
<rect x="479.50" y="691.74" width="3.5" height="3.5" fill="#fbe8cf" stroke="#ea9645" stroke-width="0.95"/>
<rect x="479.11" y="696.33" width="3.5" height="3.5" fill="#fbe8cf" stroke="#ea9645" stroke-width="0.95"/>
<rect x="490.25" y="697.62" width="3.5" height="3.5" fill="#fbe8cf" stroke="#ea9645" stroke-width="0.95"/>
<rect x="503.99" y="701.22" width="3.5" height="3.5" fill="#fbe8cf" stroke="#ea9645" stroke-width="0.95"/>
<rect x="448.45" y="690.44" width="3.5" height="3.5" fill="#fbe8cf" stroke="#ea9645" stroke-width="0.95"/>
<rect x="442.17" y="692.44" width="3.5" height="3.5" fill="#fbe8cf" stroke="#ea9645" stroke-width="0.95"/>
<rect x="462.78" y="693.73" width="3.5" height="3.5" fill="#fbe8cf" stroke="#ea9645" stroke-width="0.95"/>
<rect x="463.88" y="695.73" width="3.5" height="3.5" fill="#fbe8cf" stroke="#ea9645" stroke-width="0.95"/>
<rect x="462.58" y="699.32" width="3.5" height="3.5" fill="#fbe8cf" stroke="#ea9645" stroke-width="0.95"/>
<rect x="469.35" y="700.52" width="3.5" height="3.5" fill="#fbe8cf" stroke="#ea9645" stroke-width="0.95"/>
<rect x="475.22" y="704.61" width="3.5" height="3.5" fill="#fbe8cf" stroke="#ea9645" stroke-width="0.95"/>
<rect x="441.58" y="702.51" width="3.5" height="3.5" fill="#fbe8cf" stroke="#ea9645" stroke-width="0.95"/>
<rect x="449.04" y="699.62" width="3.5" height="3.5" fill="#fbe8cf" stroke="#ea9645" stroke-width="0.95"/>
<rect x="449.74" y="701.62" width="3.5" height="3.5" fill="#fbe8cf" stroke="#ea9645" stroke-width="0.95"/>
<rect x="453.02" y="702.91" width="3.5" height="3.5" fill="#fbe8cf" stroke="#ea9645" stroke-width="0.95"/>
<rect x="448.15" y="704.91" width="3.5" height="3.5" fill="#fbe8cf" stroke="#ea9645" stroke-width="0.95"/>
<rect x="445.76" y="707.50" width="3.5" height="3.5" fill="#fbe8cf" stroke="#ea9645" stroke-width="0.95"/>
<rect x="447.35" y="708.80" width="3.5" height="3.5" fill="#fbe8cf" stroke="#ea9645" stroke-width="0.95"/>
<rect x="465.67" y="714.39" width="3.5" height="3.5" fill="#fbe8cf" stroke="#ea9645" stroke-width="0.95"/>
<rect x="447.35" y="720.38" width="3.5" height="3.5" fill="#fbe8cf" stroke="#ea9645" stroke-width="0.95"/>
<rect x="495.23" y="722.57" width="3.5" height="3.5" fill="#fbe8cf" stroke="#ea9645" stroke-width="0.95"/>
<rect x="532.96" y="698.82" width="3.5" height="3.5" fill="#fbe8cf" stroke="#ea9645" stroke-width="0.95"/>
<rect x="408.88" y="676.98" width="3.5" height="3.5" fill="#fbe8cf" stroke="#ea9645" stroke-width="0.95"/>
<polygon points="397.4,652.4 402.9,652.4 400.1,647.8" fill="#fff" fill-opacity="0.6" stroke="#2424b8" stroke-width="1.1"/>
<polygon points="391.6,658.2 397.1,658.2 394.3,653.6" fill="#fff" fill-opacity="0.6" stroke="#2424b8" stroke-width="1.1"/>
<polygon points="397.4,666.0 402.9,666.0 400.1,661.4" fill="#fff" fill-opacity="0.6" stroke="#2424b8" stroke-width="1.1"/>
<polygon points="439.9,657.7 445.4,657.7 442.7,653.1" fill="#fff" fill-opacity="0.6" stroke="#2424b8" stroke-width="1.1"/>
<polygon points="424.4,673.7 429.9,673.7 427.1,669.1" fill="#fff" fill-opacity="0.6" stroke="#2424b8" stroke-width="1.1"/>
<polygon points="426.1,680.0 431.6,680.0 428.8,675.4" fill="#fff" fill-opacity="0.6" stroke="#2424b8" stroke-width="1.1"/>
<polygon points="445.4,673.0 450.9,673.0 448.2,668.4" fill="#fff" fill-opacity="0.6" stroke="#2424b8" stroke-width="1.1"/>
<polygon points="447.4,676.8 452.9,676.8 450.2,672.2" fill="#fff" fill-opacity="0.6" stroke="#2424b8" stroke-width="1.1"/>
<polygon points="445.4,680.1 450.9,680.1 448.2,675.5" fill="#fff" fill-opacity="0.6" stroke="#2424b8" stroke-width="1.1"/>
<polygon points="453.1,678.0 458.6,678.0 455.9,673.4" fill="#fff" fill-opacity="0.6" stroke="#2424b8" stroke-width="1.1"/>
<polygon points="455.6,679.8 461.1,679.8 458.4,675.2" fill="#fff" fill-opacity="0.6" stroke="#2424b8" stroke-width="1.1"/>
<polygon points="462.8,668.3 468.2,668.3 465.5,663.7" fill="#fff" fill-opacity="0.6" stroke="#2424b8" stroke-width="1.1"/>
<polygon points="463.9,675.5 469.4,675.5 466.6,670.9" fill="#fff" fill-opacity="0.6" stroke="#2424b8" stroke-width="1.1"/>
<polygon points="489.8,669.9 495.2,669.9 492.5,665.3" fill="#fff" fill-opacity="0.6" stroke="#2424b8" stroke-width="1.1"/>
<polygon points="498.4,680.6 503.9,680.6 501.1,676.0" fill="#fff" fill-opacity="0.6" stroke="#2424b8" stroke-width="1.1"/>
<polygon points="474.6,683.9 480.1,683.9 477.4,679.3" fill="#fff" fill-opacity="0.6" stroke="#2424b8" stroke-width="1.1"/>
<polygon points="462.8,700.1 468.2,700.1 465.5,695.5" fill="#fff" fill-opacity="0.6" stroke="#2424b8" stroke-width="1.1"/>
<polygon points="473.8,703.6 479.2,703.6 476.5,699.0" fill="#fff" fill-opacity="0.6" stroke="#2424b8" stroke-width="1.1"/>
<polygon points="473.8,706.1 479.2,706.1 476.5,701.5" fill="#fff" fill-opacity="0.6" stroke="#2424b8" stroke-width="1.1"/>
<polygon points="507.1,712.9 512.5,712.9 509.8,708.3" fill="#fff" fill-opacity="0.6" stroke="#2424b8" stroke-width="1.1"/>
<polygon points="420.4,710.6 425.9,710.6 423.2,706.0" fill="#fff" fill-opacity="0.6" stroke="#2424b8" stroke-width="1.1"/>
<polygon points="409.80,656.60 412.37,658.47 411.39,661.48 408.21,661.48 407.23,658.47" fill="#fff" fill-opacity="0.5" stroke="#3e9a3e" stroke-width="1.1"/>
<polygon points="486.80,670.70 489.37,672.57 488.39,675.58 485.21,675.58 484.23,672.57" fill="#fff" fill-opacity="0.5" stroke="#3e9a3e" stroke-width="1.1"/>
<polygon points="496.70,686.50 499.27,688.37 498.29,691.38 495.11,691.38 494.13,688.37" fill="#fff" fill-opacity="0.5" stroke="#3e9a3e" stroke-width="1.1"/>
<polygon points="496.70,694.70 499.27,696.57 498.29,699.58 495.11,699.58 494.13,696.57" fill="#fff" fill-opacity="0.5" stroke="#3e9a3e" stroke-width="1.1"/>
<polygon points="482.70,698.80 485.27,700.67 484.29,703.68 481.11,703.68 480.13,700.67" fill="#fff" fill-opacity="0.5" stroke="#3e9a3e" stroke-width="1.1"/>
<polygon points="487.10,700.70 489.67,702.57 488.69,705.58 485.51,705.58 484.53,702.57" fill="#fff" fill-opacity="0.5" stroke="#3e9a3e" stroke-width="1.1"/>
<polygon points="456.90,701.10 459.47,702.97 458.49,705.98 455.31,705.98 454.33,702.97" fill="#fff" fill-opacity="0.5" stroke="#3e9a3e" stroke-width="1.1"/>
<polygon points="536.10,715.20 538.67,717.07 537.69,720.08 534.51,720.08 533.53,717.07" fill="#fff" fill-opacity="0.5" stroke="#3e9a3e" stroke-width="1.1"/>
<polygon points="563.80,686.00 566.37,687.87 565.39,690.88 562.21,690.88 561.23,687.87" fill="#fff" fill-opacity="0.5" stroke="#3e9a3e" stroke-width="1.1"/>
<circle cx="444.7" cy="639" r="3.1" fill="url(#sph)"/>
<circle cx="478.9" cy="639.7" r="3.1" fill="url(#sph)"/>
<circle cx="485.8" cy="636.8" r="3.1" fill="url(#sph)"/>
<circle cx="485.2" cy="641" r="3.1" fill="url(#sph)"/>
<circle cx="519.5" cy="643.5" r="3.1" fill="url(#sph)"/>
<circle cx="519.5" cy="646.8" r="3.1" fill="url(#sph)"/>
<circle cx="503.2" cy="657" r="3.1" fill="url(#sph)"/>
<circle cx="531.1" cy="658" r="3.1" fill="url(#sph)"/>
<circle cx="518.8" cy="672.7" r="3.1" fill="url(#sph)"/>
<circle cx="538" cy="673.4" r="3.1" fill="url(#sph)"/>
<line x1="464.8" y1="627.6" x2="464.8" y2="632.4" stroke="#d42a20" stroke-width="1.8"/>
<polygon points="464.8,637.4 461.8,632.4 467.8,632.4" fill="#d42a20"/>
<line x1="499.6" y1="621.7" x2="496.1" y2="627.8" stroke="#d42a20" stroke-width="1.8"/>
<polygon points="493.7,632.2 493.5,626.4 498.8,629.3" fill="#d42a20"/>
<line x1="535.0" y1="621.7" x2="529.2" y2="631.1" stroke="#d42a20" stroke-width="1.8"/>
<polygon points="526.6,635.4 526.7,629.6 531.8,632.7" fill="#d42a20"/>
<line x1="550.0" y1="657.8" x2="543.5" y2="657.8" stroke="#d42a20" stroke-width="1.8"/>
<polygon points="538.5,657.8 543.5,654.8 543.5,660.8" fill="#d42a20"/>
<line x1="551.7" y1="680.0" x2="547.3" y2="676.2" stroke="#d42a20" stroke-width="1.8"/>
<polygon points="543.5,673.0 549.3,674.0 545.4,678.5" fill="#d42a20"/>
<text x="440.8" y="628.0" font-size="9.2" font-weight="bold" fill="#111" stroke="#111" stroke-width="0.28" text-anchor="start" >5 iteration</text>
<text x="472.3" y="616.4" font-size="9.2" font-weight="bold" fill="#111" stroke="#111" stroke-width="0.28" text-anchor="start" >2 iteration</text>
<text x="536.2" y="626.1" font-size="9.2" font-weight="bold" fill="#111" stroke="#111" stroke-width="0.28" text-anchor="start" >3 iteration</text>
<text x="552.2" y="660.3" font-size="9.2" font-weight="bold" fill="#111" stroke="#111" stroke-width="0.28" text-anchor="start" >4 iteration</text>
<text x="555.6" y="682.8" font-size="9.2" font-weight="bold" fill="#111" stroke="#111" stroke-width="0.28" text-anchor="start" >1 iteration</text>
<circle cx="490.5" cy="559.8" r="3.3" fill="url(#sph)"/>
<rect x="488.6" y="569.8" width="3.8" height="3.8" fill="#fbe6c9" stroke="#e8923a" stroke-width="1"/>
<polygon points="487.5,585.9 493.5,585.9 490.5,580.9" fill="#fff" fill-opacity="0.6" stroke="#2424b8" stroke-width="1.1"/>
<polygon points="490.50,592.70 492.97,594.50 492.03,597.40 488.97,597.40 488.03,594.50" fill="#fff" fill-opacity="0.5" stroke="#3e9a3e" stroke-width="1.1"/>
<text x="505.4" y="562.9" font-size="9.9" font-weight="bold" fill="#111" stroke="#111" stroke-width="0.28" text-anchor="start" >This work</text>
<text x="505.4" y="575.2" font-size="9.9" font-weight="bold" fill="#111" stroke="#111" stroke-width="0.28" text-anchor="start" >Input data_PBF</text>
<text x="505.4" y="586.9" font-size="9.9" font-weight="bold" fill="#111" stroke="#111" stroke-width="0.28" text-anchor="start" >DED</text>
<text x="505.4" y="598.7" font-size="9.9" font-weight="bold" fill="#111" stroke="#111" stroke-width="0.28" text-anchor="start" >Wrought</text>
<line x1="385.93" y1="733.7" x2="385.93" y2="731.4000000000001" stroke="#1a1a1a" stroke-width="1.2"/>
<line x1="409.96" y1="733.7" x2="409.96" y2="729.9000000000001" stroke="#1a1a1a" stroke-width="1.2"/>
<line x1="433.99" y1="733.7" x2="433.99" y2="731.4000000000001" stroke="#1a1a1a" stroke-width="1.2"/>
<line x1="458.02" y1="733.7" x2="458.02" y2="729.9000000000001" stroke="#1a1a1a" stroke-width="1.2"/>
<line x1="482.05" y1="733.7" x2="482.05" y2="731.4000000000001" stroke="#1a1a1a" stroke-width="1.2"/>
<line x1="506.08" y1="733.7" x2="506.08" y2="729.9000000000001" stroke="#1a1a1a" stroke-width="1.2"/>
<line x1="530.11" y1="733.7" x2="530.11" y2="731.4000000000001" stroke="#1a1a1a" stroke-width="1.2"/>
<line x1="554.14" y1="733.7" x2="554.14" y2="729.9000000000001" stroke="#1a1a1a" stroke-width="1.2"/>
<line x1="578.17" y1="733.7" x2="578.17" y2="731.4000000000001" stroke="#1a1a1a" stroke-width="1.2"/>
<line x1="361.9" y1="722.20" x2="364.2" y2="722.20" stroke="#1a1a1a" stroke-width="1.2"/>
<line x1="361.9" y1="710.70" x2="365.7" y2="710.70" stroke="#1a1a1a" stroke-width="1.2"/>
<line x1="361.9" y1="699.20" x2="364.2" y2="699.20" stroke="#1a1a1a" stroke-width="1.2"/>
<line x1="361.9" y1="687.70" x2="365.7" y2="687.70" stroke="#1a1a1a" stroke-width="1.2"/>
<line x1="361.9" y1="676.20" x2="364.2" y2="676.20" stroke="#1a1a1a" stroke-width="1.2"/>
<line x1="361.9" y1="664.70" x2="365.7" y2="664.70" stroke="#1a1a1a" stroke-width="1.2"/>
<line x1="361.9" y1="653.20" x2="364.2" y2="653.20" stroke="#1a1a1a" stroke-width="1.2"/>
<line x1="361.9" y1="641.70" x2="365.7" y2="641.70" stroke="#1a1a1a" stroke-width="1.2"/>
<line x1="361.9" y1="630.20" x2="364.2" y2="630.20" stroke="#1a1a1a" stroke-width="1.2"/>
<line x1="361.9" y1="618.70" x2="365.7" y2="618.70" stroke="#1a1a1a" stroke-width="1.2"/>
<line x1="361.9" y1="607.20" x2="364.2" y2="607.20" stroke="#1a1a1a" stroke-width="1.2"/>
<line x1="361.9" y1="595.70" x2="365.7" y2="595.70" stroke="#1a1a1a" stroke-width="1.2"/>
<line x1="361.9" y1="584.20" x2="364.2" y2="584.20" stroke="#1a1a1a" stroke-width="1.2"/>
<line x1="361.9" y1="572.70" x2="365.7" y2="572.70" stroke="#1a1a1a" stroke-width="1.2"/>
<line x1="361.9" y1="561.20" x2="364.2" y2="561.20" stroke="#1a1a1a" stroke-width="1.2"/>
<rect x="361.9" y="549.7" width="240.30" height="184.00" fill="none" stroke="#1a1a1a" stroke-width="1.5"/>
<text x="361.9" y="745.2" font-size="9.5" font-weight="bold" fill="#111" stroke="#111" stroke-width="0.28" text-anchor="middle" >0</text>
<text x="410.0" y="745.2" font-size="9.5" font-weight="bold" fill="#111" stroke="#111" stroke-width="0.28" text-anchor="middle" >5</text>
<text x="458.0" y="745.2" font-size="9.5" font-weight="bold" fill="#111" stroke="#111" stroke-width="0.28" text-anchor="middle" >10</text>
<text x="506.1" y="745.2" font-size="9.5" font-weight="bold" fill="#111" stroke="#111" stroke-width="0.28" text-anchor="middle" >15</text>
<text x="554.1" y="745.2" font-size="9.5" font-weight="bold" fill="#111" stroke="#111" stroke-width="0.28" text-anchor="middle" >20</text>
<text x="602.2" y="745.2" font-size="9.5" font-weight="bold" fill="#111" stroke="#111" stroke-width="0.28" text-anchor="middle" >25</text>
<text x="357.1" y="737.1" font-size="9.5" font-weight="bold" fill="#111" stroke="#111" stroke-width="0.28" text-anchor="end" >800</text>
<text x="357.1" y="714.1" font-size="9.5" font-weight="bold" fill="#111" stroke="#111" stroke-width="0.28" text-anchor="end" >900</text>
<text x="357.1" y="691.1" font-size="9.5" font-weight="bold" fill="#111" stroke="#111" stroke-width="0.28" text-anchor="end" >1000</text>
<text x="357.1" y="668.1" font-size="9.5" font-weight="bold" fill="#111" stroke="#111" stroke-width="0.28" text-anchor="end" >1100</text>
<text x="357.1" y="645.1" font-size="9.5" font-weight="bold" fill="#111" stroke="#111" stroke-width="0.28" text-anchor="end" >1200</text>
<text x="357.1" y="622.1" font-size="9.5" font-weight="bold" fill="#111" stroke="#111" stroke-width="0.28" text-anchor="end" >1300</text>
<text x="357.1" y="599.1" font-size="9.5" font-weight="bold" fill="#111" stroke="#111" stroke-width="0.28" text-anchor="end" >1400</text>
<text x="357.1" y="576.1" font-size="9.5" font-weight="bold" fill="#111" stroke="#111" stroke-width="0.28" text-anchor="end" >1500</text>
<text x="357.1" y="553.1" font-size="9.5" font-weight="bold" fill="#111" stroke="#111" stroke-width="0.28" text-anchor="end" >1600</text>
<text x="482.6" y="762.8" font-size="11" font-weight="bold" fill="#111" stroke="#111" stroke-width="0.28" text-anchor="middle" >Total Elongation, %</text>
<text x="0" y="0" font-size="10.6" font-weight="bold" fill="#111" stroke="#111" stroke-width="0.28" text-anchor="middle" transform="translate(328.7,641.2) rotate(-90)">Ultimate Tensile Strength, MPa</text>
<text x="315.6" y="539.6" font-size="26.5" font-weight="bold" fill="#000" stroke="#000" stroke-width="0.4">f</text>
<g opacity="0.85">
<ellipse cx="421.1" cy="740.4" rx="6.6" ry="5.7" fill="#b4b4b4"/>
<path d="M416.5,744.5 L415.5,748 L419.5,745.6 Z" fill="#b4b4b4"/>
<circle cx="418.8" cy="738.6" r="0.9" fill="#fff"/><circle cx="423.2" cy="738.6" r="0.9" fill="#fff"/>
<ellipse cx="429.4" cy="745.6" rx="7" ry="6" fill="#b4b4b4" stroke="#fff" stroke-width="1.1"/>
<path d="M433.5,750 L435.5,753 L430.5,751 Z" fill="#b4b4b4"/>
<circle cx="427" cy="744" r="0.9" fill="#fff"/><circle cx="431.8" cy="744" r="0.9" fill="#fff"/>
<path transform="translate(441,735.5) scale(1.08)" d="M5,1 L1,7 M9,1 L13,7 M6.5,5 L2,13 L12,12 M9,9.5 L12.5,13.5" fill="none" stroke="#b4b4b4" stroke-width="1.5" stroke-linecap="round" stroke-linejoin="round"/>
<path transform="translate(456.5,735.5) scale(1.08)" d="M7,0.5 L2,6 M7,0.5 L12,6 M4,7 L0.5,14 M4,8.5 L7,13.5 M10.5,7 L7.5,14 M10.5,8.5 L14,14" fill="none" stroke="#b4b4b4" stroke-width="1.5" stroke-linecap="round" stroke-linejoin="round"/>
<path transform="translate(474,735.5) scale(1.08)" d="M3.5,0.8 L10.5,0.8 L10.5,5 L3.5,5 Z M0.5,7.2 L13.5,7.2 M4.5,7.2 L3.8,10 L12,10 L11.3,14 L8.5,13.3" fill="none" stroke="#b4b4b4" stroke-width="1.5" stroke-linecap="round" stroke-linejoin="round"/>
<text x="511" y="750.2" font-size="17" fill="#b4b4b4">AMLetters</text>
</g>
</svg></body></html>
